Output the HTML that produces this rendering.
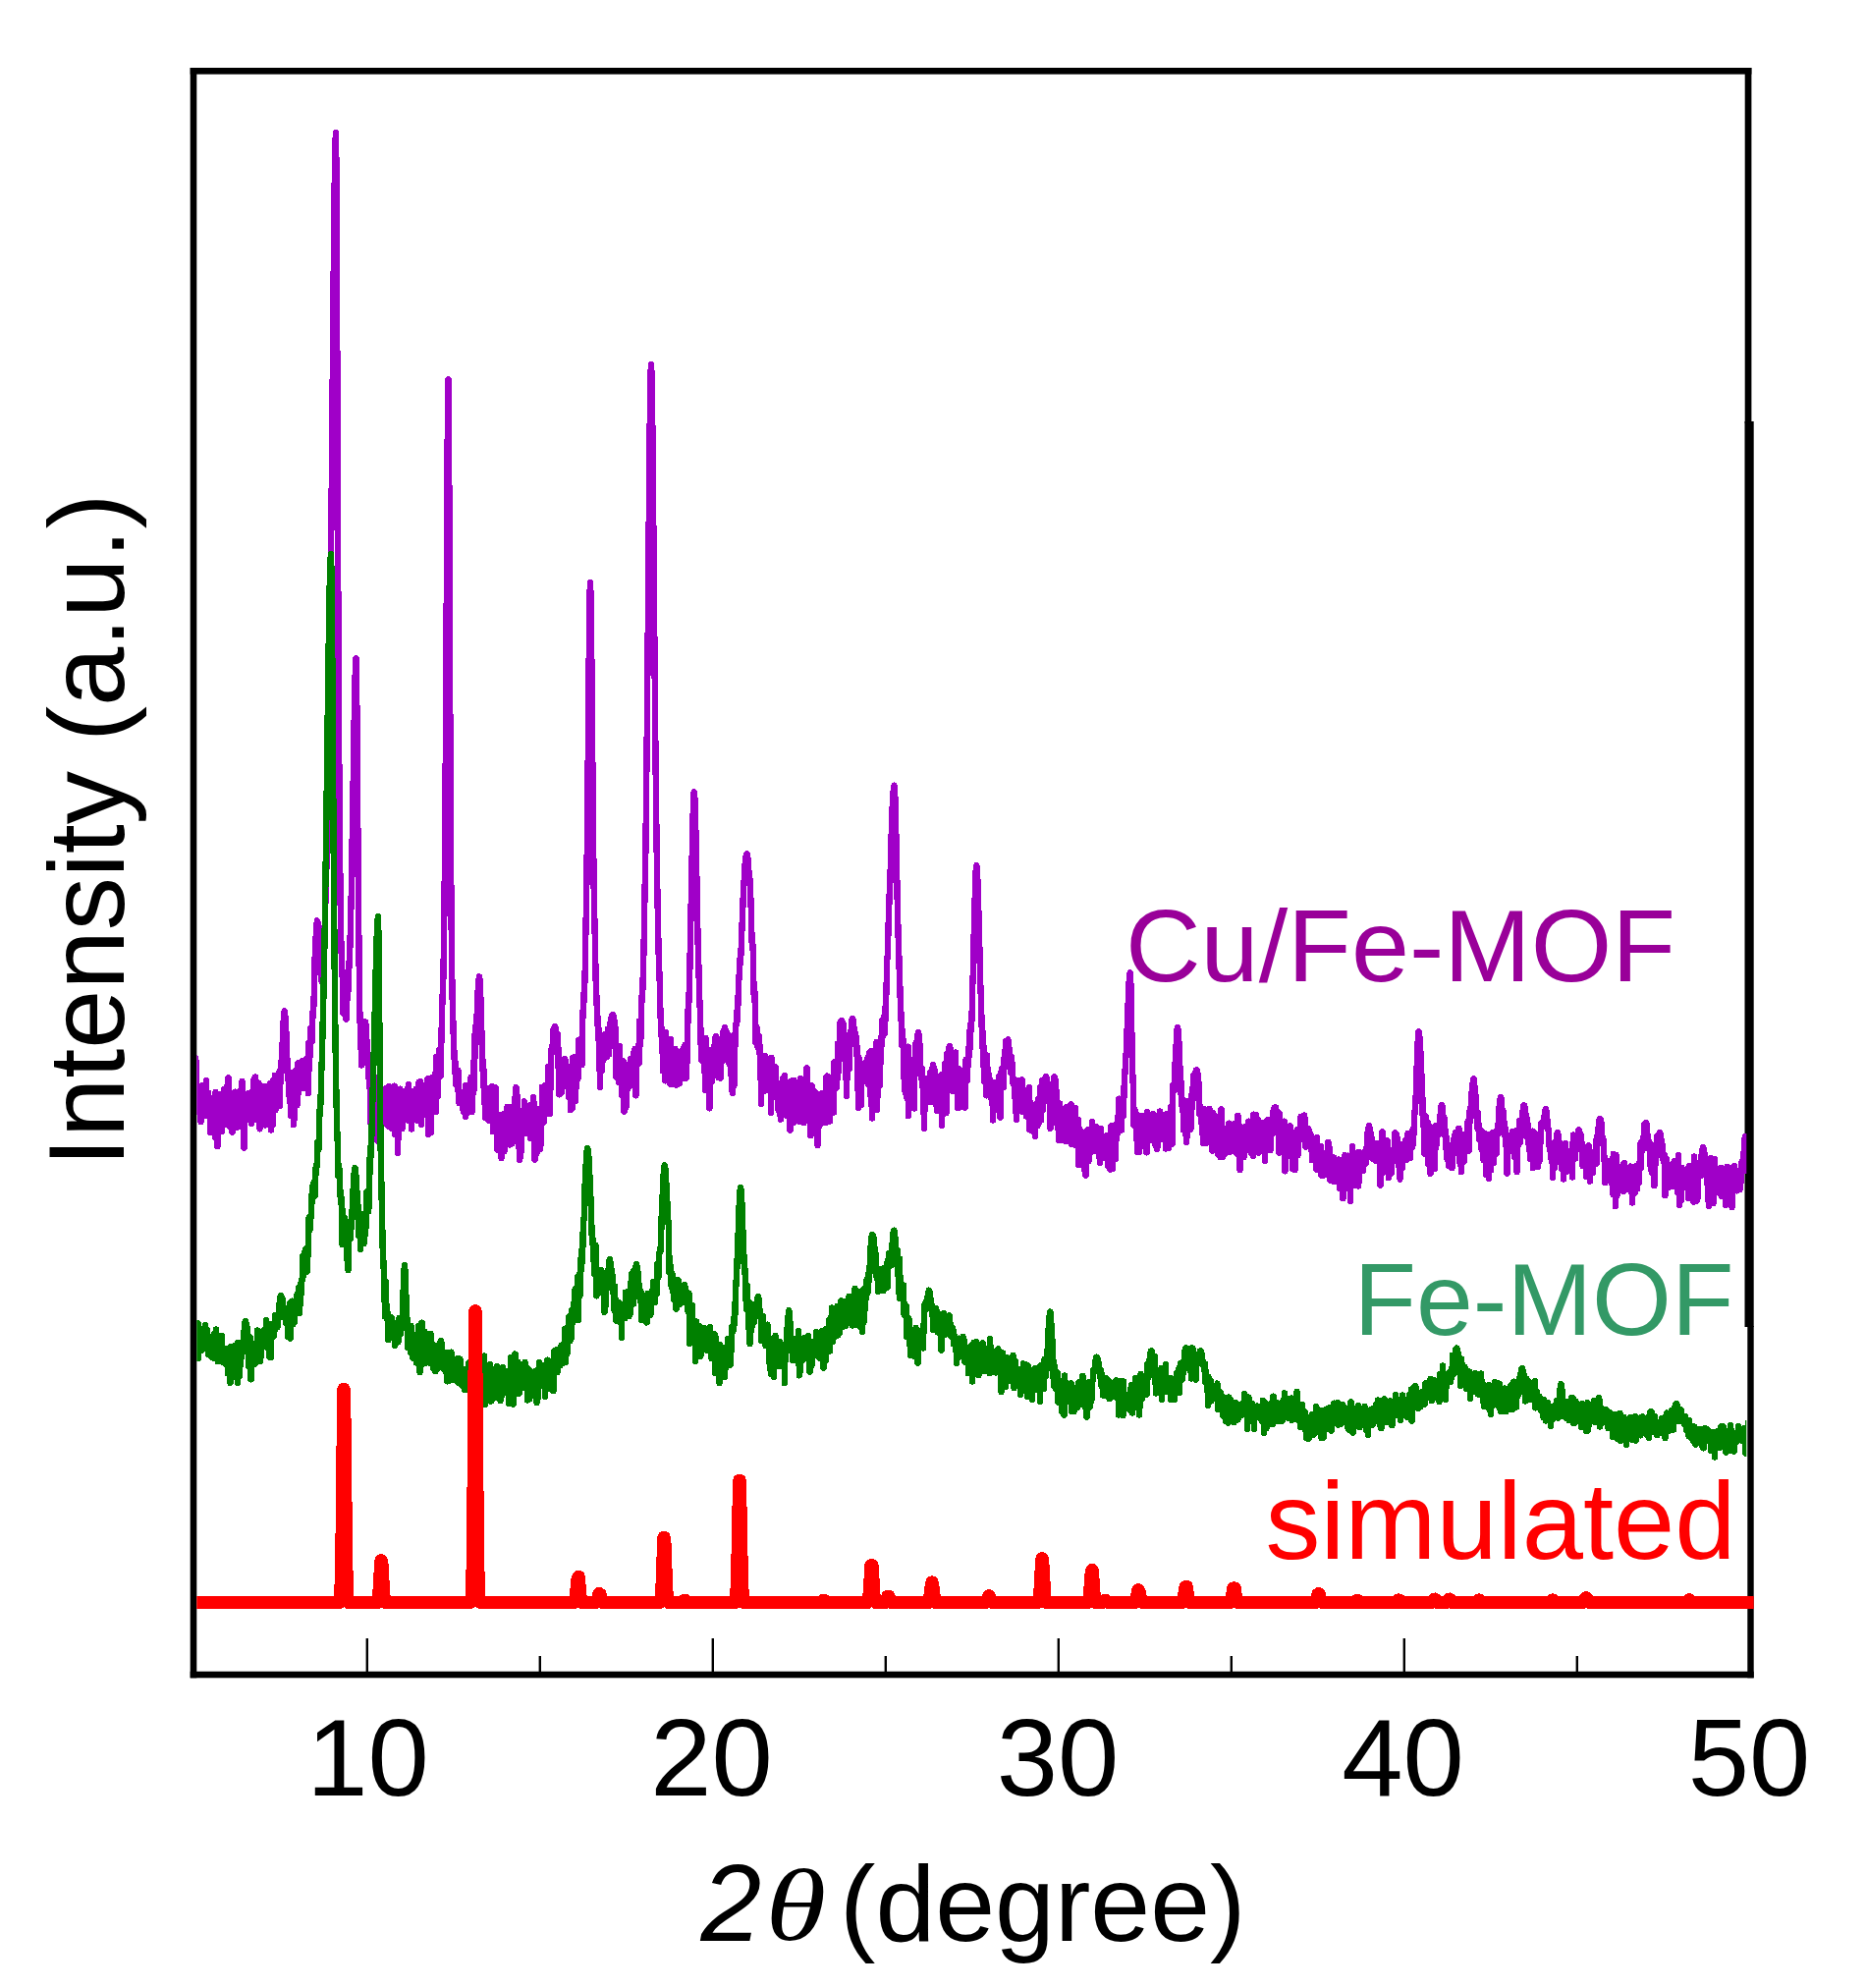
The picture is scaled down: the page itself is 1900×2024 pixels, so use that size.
<!DOCTYPE html>
<html lang="en">
<head>
<meta charset="utf-8">
<title>XRD patterns: Cu/Fe-MOF, Fe-MOF, simulated</title>
<style>
html,body{margin:0;padding:0;background:#fff;}
body{width:1900px;height:2024px;overflow:hidden;}
svg{display:block;}
text{font-family:'Liberation Sans', sans-serif;}
</style>
</head>
<body>
<svg width="1900" height="2024" viewBox="0 0 1900 2024">
<rect x="0" y="0" width="1900" height="2024" fill="#ffffff"/>

<!-- plot frame -->
<g fill="#000000">
<rect x="193.7" y="69" width="1589.7" height="6.6"/>
<rect x="193.7" y="69" width="6.6" height="1639.3"/>
<rect x="193.7" y="1701.7" width="1592" height="6.6"/>
<rect x="1776.7" y="69" width="6.7" height="362"/>
<rect x="1776.5" y="429" width="9.2" height="922"/>
<rect x="1779.3" y="1350" width="6.4" height="358.3"/>
</g>

<!-- ticks -->
<g stroke="#000000" stroke-width="2.4">
<line x1="373.8" y1="1668" x2="373.8" y2="1703"/>
<line x1="549.8" y1="1686" x2="549.8" y2="1703"/>
<line x1="725.8" y1="1668" x2="725.8" y2="1703"/>
<line x1="901.8" y1="1686" x2="901.8" y2="1703"/>
<line x1="1077.8" y1="1668" x2="1077.8" y2="1703"/>
<line x1="1253.8" y1="1686" x2="1253.8" y2="1703"/>
<line x1="1429.8" y1="1668" x2="1429.8" y2="1703"/>
<line x1="1605.8" y1="1686" x2="1605.8" y2="1703"/>
</g>

<!-- curves -->
<defs><clipPath id="plotclip"><rect x="200.3" y="76" width="1578" height="1626"/></clipPath>
<clipPath id="redclip"><rect x="200.3" y="76" width="1585.4" height="1626"/></clipPath></defs>
<g fill="none" stroke-linejoin="round" stroke-linecap="butt" shape-rendering="crispEdges">
<polyline clip-path="url(#plotclip)" stroke="#a000c8" stroke-width="6.4" points="197.0,1111.6 197.5,1103.4 198.0,1089.4 198.5,1080.2 199.0,1077.2 199.5,1080.3 200.0,1090.5 200.5,1110.9 201.0,1109.0 201.5,1114.3 202.0,1132.2 202.5,1133.0 203.0,1130.0 203.5,1116.7 204.0,1128.7 204.5,1142.0 205.0,1111.9 205.5,1123.8 206.0,1105.0 206.5,1113.3 207.0,1106.3 207.5,1127.7 208.0,1114.3 208.5,1136.2 209.0,1134.3 209.5,1129.2 210.0,1100.3 210.5,1125.0 211.0,1131.7 211.5,1134.6 212.0,1112.6 212.5,1126.6 213.0,1120.2 213.5,1122.6 214.0,1152.8 214.5,1122.9 215.0,1133.2 215.5,1149.8 216.0,1126.0 216.5,1132.2 217.0,1135.6 217.5,1134.6 218.0,1117.1 218.5,1134.4 219.0,1157.6 219.5,1112.1 220.0,1147.7 220.5,1133.8 221.0,1122.7 221.5,1167.2 222.0,1144.1 222.5,1113.8 223.0,1130.4 223.5,1139.1 224.0,1125.5 224.5,1139.9 225.0,1126.1 225.5,1138.7 226.0,1152.3 226.5,1116.7 227.0,1129.0 227.5,1118.8 228.0,1126.9 228.5,1108.7 229.0,1116.5 229.5,1121.4 230.0,1140.2 230.5,1144.6 231.0,1106.3 231.5,1113.2 232.0,1135.5 232.5,1097.5 233.0,1117.7 233.5,1122.6 234.0,1147.0 234.5,1136.8 235.0,1120.1 235.5,1119.7 236.0,1121.5 236.5,1152.8 237.0,1119.6 237.5,1121.4 238.0,1132.1 238.5,1124.3 239.0,1123.5 239.5,1111.6 240.0,1126.3 240.5,1120.8 241.0,1148.0 241.5,1138.8 242.0,1126.7 242.5,1139.3 243.0,1122.7 243.5,1146.5 244.0,1127.3 244.5,1138.1 245.0,1110.5 245.5,1133.8 246.0,1105.4 246.5,1100.8 247.0,1123.6 247.5,1115.8 248.0,1130.6 248.5,1168.5 249.0,1116.7 249.5,1119.4 250.0,1131.2 250.5,1136.4 251.0,1125.0 251.5,1124.6 252.0,1140.0 252.5,1136.5 253.0,1113.3 253.5,1125.7 254.0,1127.3 254.5,1112.6 255.0,1131.0 255.5,1114.9 256.0,1143.7 256.5,1129.3 257.0,1127.2 257.5,1117.7 258.0,1123.7 258.5,1098.9 259.0,1110.1 259.5,1131.3 260.0,1096.6 260.5,1139.8 261.0,1101.2 261.5,1137.7 262.0,1112.7 262.5,1137.8 263.0,1125.8 263.5,1103.1 264.0,1145.9 264.5,1149.3 265.0,1122.1 265.5,1119.3 266.0,1120.7 266.5,1110.0 267.0,1142.7 267.5,1115.6 268.0,1122.0 268.5,1112.2 269.0,1114.4 269.5,1105.8 270.0,1145.4 270.5,1120.5 271.0,1139.9 271.5,1122.5 272.0,1113.1 272.5,1117.8 273.0,1114.6 273.5,1121.9 274.0,1116.6 274.5,1117.4 275.0,1103.0 275.5,1110.2 276.0,1150.5 276.5,1111.4 277.0,1106.1 277.5,1125.6 278.0,1144.7 278.5,1099.9 279.0,1115.7 279.5,1109.8 280.0,1094.7 280.5,1130.4 281.0,1116.2 281.5,1117.2 282.0,1105.3 282.5,1122.2 283.0,1105.9 283.5,1109.4 284.0,1095.0 284.5,1091.1 285.0,1126.0 285.5,1092.2 286.0,1097.1 286.5,1084.9 287.0,1072.5 287.5,1062.7 288.0,1059.0 288.5,1043.2 289.0,1034.7 289.7,1029.2 290.0,1030.3 290.5,1036.8 291.0,1046.5 291.5,1053.0 292.0,1056.7 292.5,1088.5 293.0,1098.9 293.5,1090.0 294.0,1106.1 294.5,1114.6 295.0,1118.8 295.5,1122.9 296.0,1102.7 296.5,1136.4 297.0,1094.7 297.5,1126.5 298.0,1120.4 298.5,1127.4 299.0,1145.3 299.5,1138.3 300.0,1097.3 300.5,1090.2 301.0,1126.0 301.5,1098.2 302.0,1110.6 302.5,1125.1 303.0,1088.8 303.5,1082.3 304.0,1113.0 304.5,1108.4 305.0,1103.7 305.5,1106.6 306.0,1094.1 306.5,1084.8 307.0,1100.7 307.5,1089.5 308.0,1079.9 308.5,1108.0 309.0,1097.1 309.5,1103.5 310.0,1082.8 310.5,1085.4 311.0,1079.7 311.5,1079.5 312.0,1091.9 312.5,1077.3 313.0,1090.7 313.5,1088.2 314.0,1113.3 314.5,1061.4 315.0,1088.7 315.5,1070.1 316.0,1066.9 316.5,1046.7 317.0,1051.9 317.5,1060.5 318.0,1041.7 318.5,1034.7 319.0,1021.3 319.5,1023.9 320.0,999.9 320.5,976.7 321.0,971.3 321.5,957.1 322.0,947.6 322.5,941.1 322.9,937.2 323.5,939.5 324.0,947.4 324.5,958.6 325.0,978.0 325.5,982.8 326.0,988.8 326.5,991.8 327.0,993.5 327.5,999.3 328.0,993.3 328.5,984.7 329.0,969.4 329.5,971.3 330.0,953.5 330.5,953.1 331.0,926.3 331.5,916.5 332.0,900.0 332.5,876.3 333.0,866.3 333.5,840.2 334.0,806.8 334.5,779.8 335.0,745.1 335.5,703.7 336.0,666.8 336.5,621.7 337.0,573.6 337.5,520.9 338.0,466.9 338.5,410.3 339.0,354.0 339.5,297.8 340.0,245.9 340.5,201.4 341.0,165.9 341.5,143.4 342.0,135.2 342.5,174.2 343.0,275.6 343.5,404.5 344.0,531.9 344.5,642.7 345.0,734.0 345.5,805.0 346.0,860.6 346.5,904.2 347.0,946.3 347.5,965.5 348.0,979.9 348.5,990.7 349.0,1001.0 349.5,1031.6 350.0,1026.1 350.5,1025.4 351.0,1024.4 351.5,1019.0 352.0,1027.9 352.5,1037.5 353.0,1020.9 353.5,1018.1 354.0,1012.4 354.5,1007.9 355.0,986.1 355.5,984.7 356.0,967.7 356.5,963.7 357.0,934.9 357.5,921.0 358.0,901.5 358.5,866.4 359.0,837.1 359.5,808.4 360.0,776.3 360.5,744.4 361.0,717.3 361.5,694.3 362.0,677.2 362.6,670.2 363.0,684.9 363.5,736.2 364.0,802.3 364.5,866.9 365.0,929.8 365.5,963.6 366.0,1010.5 366.5,1041.2 367.0,1043.4 367.5,1058.4 368.0,1084.5 368.5,1058.6 369.0,1055.6 369.5,1048.7 370.0,1055.5 370.5,1057.5 371.0,1046.9 371.5,1040.1 372.0,1040.2 372.5,1044.2 373.0,1053.1 373.5,1061.2 374.0,1073.7 374.5,1084.3 375.0,1085.6 375.5,1094.6 376.0,1103.7 376.5,1103.4 377.0,1116.5 377.5,1143.3 378.0,1122.7 378.5,1114.7 379.0,1093.2 379.5,1123.0 380.0,1091.7 380.5,1099.3 381.0,1133.6 381.5,1131.5 382.0,1117.2 382.5,1097.4 383.0,1115.1 383.5,1111.5 384.0,1132.1 384.5,1161.6 385.0,1125.1 385.5,1111.3 386.0,1106.4 386.5,1121.2 387.0,1119.9 387.5,1107.5 388.0,1124.9 388.5,1108.2 389.0,1143.6 389.5,1143.1 390.0,1143.8 390.5,1118.4 391.0,1134.3 391.5,1123.6 392.0,1120.7 392.5,1121.7 393.0,1109.6 393.5,1108.1 394.0,1141.7 394.5,1125.2 395.0,1132.0 395.5,1146.5 396.0,1106.1 396.5,1118.8 397.0,1132.4 397.5,1136.6 398.0,1124.8 398.5,1148.5 399.0,1133.8 399.5,1114.3 400.0,1118.1 400.5,1144.9 401.0,1138.8 401.5,1105.7 402.0,1154.9 402.5,1141.3 403.0,1154.8 403.5,1125.6 404.0,1126.7 404.5,1115.9 405.0,1174.1 405.5,1128.3 406.0,1159.3 406.5,1122.2 407.0,1133.5 407.5,1108.7 408.0,1125.4 408.5,1148.0 409.0,1113.7 409.5,1149.2 410.0,1135.7 410.5,1115.6 411.0,1122.4 411.5,1122.5 412.0,1127.4 412.5,1120.6 413.0,1116.3 413.5,1122.6 414.0,1112.7 414.5,1108.8 415.0,1124.4 415.5,1140.5 416.0,1104.2 416.5,1123.8 417.0,1114.8 417.5,1110.2 418.0,1138.1 418.5,1115.7 419.0,1149.4 419.5,1112.0 420.0,1129.1 420.5,1119.2 421.0,1112.4 421.5,1132.9 422.0,1120.4 422.5,1133.5 423.0,1122.2 423.5,1108.9 424.0,1122.0 424.5,1124.5 425.0,1141.1 425.5,1112.2 426.0,1123.7 426.5,1102.0 427.0,1136.4 427.5,1110.7 428.0,1101.4 428.5,1124.2 429.0,1144.9 429.5,1105.1 430.0,1110.8 430.5,1115.2 431.0,1110.0 431.5,1131.4 432.0,1113.9 432.5,1114.8 433.0,1134.4 433.5,1113.8 434.0,1131.0 434.5,1110.3 435.0,1106.8 435.5,1098.4 436.0,1155.2 436.5,1117.1 437.0,1125.2 437.5,1119.9 438.0,1122.7 438.5,1120.1 439.0,1152.8 439.5,1104.6 440.0,1097.3 440.5,1103.6 441.0,1098.6 441.5,1128.0 442.0,1128.2 442.5,1100.3 443.0,1093.5 443.5,1105.1 444.0,1132.1 444.5,1075.7 445.0,1112.6 445.5,1087.7 446.0,1115.7 446.5,1081.6 447.0,1087.4 447.5,1068.5 448.0,1069.6 448.5,1095.9 449.0,1079.0 449.5,1053.3 450.0,1037.5 450.5,1014.7 451.0,1009.9 451.5,989.0 452.0,958.3 452.5,919.4 453.0,867.3 453.5,809.5 454.0,736.3 454.5,653.0 455.0,561.8 455.5,474.7 456.0,410.3 456.5,386.2 457.0,429.5 457.5,534.8 458.0,657.6 458.5,767.7 459.0,860.1 459.5,925.6 460.0,977.1 460.5,1009.0 461.0,1029.0 461.5,1044.2 462.0,1064.6 462.5,1071.5 463.0,1089.8 463.5,1092.7 464.0,1082.0 464.5,1104.3 465.0,1090.6 465.5,1103.0 466.0,1110.0 466.5,1090.0 467.0,1120.0 467.5,1123.0 468.0,1119.9 468.5,1117.9 469.0,1119.7 469.5,1112.9 470.0,1122.7 470.5,1119.7 471.0,1128.8 471.5,1111.9 472.0,1131.8 472.5,1130.1 473.0,1125.6 473.5,1121.5 474.0,1136.7 474.5,1104.9 475.0,1134.1 475.5,1129.6 476.0,1129.6 476.5,1130.6 477.0,1114.5 477.5,1118.6 478.0,1132.1 478.5,1127.2 479.0,1121.7 479.5,1097.0 480.0,1123.7 480.5,1132.1 481.0,1126.1 481.5,1108.8 482.0,1081.1 482.5,1110.2 483.0,1086.2 483.5,1053.3 484.0,1076.3 484.5,1046.5 485.0,1038.7 485.5,1032.9 486.0,1032.7 486.5,1011.9 487.0,1003.6 487.5,997.3 488.0,994.2 488.5,998.0 489.0,1007.8 489.5,1018.5 490.0,1034.3 490.5,1057.2 491.0,1072.0 491.5,1081.1 492.0,1105.6 492.5,1089.6 493.0,1105.2 493.5,1124.2 494.0,1126.2 494.5,1138.4 495.0,1129.4 495.5,1120.6 496.0,1132.9 496.5,1115.0 497.0,1108.1 497.5,1140.7 498.0,1130.6 498.5,1137.6 499.0,1110.9 499.5,1128.8 500.0,1126.4 500.5,1123.5 501.0,1106.0 501.5,1131.3 502.0,1152.3 502.5,1143.4 503.0,1129.2 503.5,1137.2 504.0,1151.5 504.5,1107.2 505.0,1137.1 505.5,1148.9 506.0,1151.9 506.5,1170.7 507.0,1161.0 507.5,1146.6 508.0,1146.9 508.5,1156.1 509.0,1135.4 509.5,1142.3 510.0,1159.6 510.5,1179.0 511.0,1142.1 511.5,1143.9 512.0,1148.5 512.5,1169.4 513.0,1145.1 513.5,1172.2 514.0,1133.5 514.5,1143.8 515.0,1143.8 515.5,1160.6 516.0,1165.4 516.5,1127.1 517.0,1134.8 517.5,1152.8 518.0,1138.2 518.5,1127.0 519.0,1165.5 519.5,1155.7 520.0,1155.7 520.5,1140.4 521.0,1164.5 521.5,1142.8 522.0,1163.2 522.5,1133.4 523.0,1132.0 523.5,1136.5 524.0,1123.2 524.5,1119.7 525.0,1110.4 525.5,1107.2 526.0,1109.9 526.5,1116.1 527.0,1131.7 527.5,1129.1 528.0,1135.1 528.5,1160.9 529.0,1181.1 529.5,1179.3 530.0,1145.9 530.5,1148.6 531.0,1172.1 531.5,1142.7 532.0,1131.4 532.5,1145.9 533.0,1151.6 533.5,1132.4 534.0,1121.4 534.5,1123.7 535.0,1153.8 535.5,1131.6 536.0,1139.2 536.5,1144.4 537.0,1151.3 537.5,1135.4 538.0,1148.4 538.5,1127.6 539.0,1134.1 539.5,1125.3 540.0,1158.7 540.5,1137.8 541.0,1128.4 541.5,1133.3 542.0,1134.9 542.5,1150.3 543.0,1117.0 543.5,1124.2 544.0,1132.6 544.5,1180.6 545.0,1154.6 545.5,1135.9 546.0,1150.0 546.5,1174.0 547.0,1133.9 547.5,1132.0 548.0,1158.3 548.5,1145.1 549.0,1148.0 549.5,1129.1 550.0,1169.8 550.5,1165.4 551.0,1144.3 551.5,1145.8 552.0,1106.7 552.5,1143.5 553.0,1128.8 553.5,1138.2 554.0,1141.6 554.5,1123.9 555.0,1105.4 555.5,1132.3 556.0,1114.7 556.5,1118.2 557.0,1112.7 557.5,1113.8 558.0,1086.2 558.5,1133.7 559.0,1113.4 559.5,1124.1 560.0,1133.9 560.5,1095.7 561.0,1069.0 561.5,1073.7 562.0,1065.0 562.5,1065.4 563.0,1063.1 563.5,1048.3 564.0,1051.4 564.5,1046.1 565.0,1045.2 565.5,1045.8 566.0,1047.9 566.5,1052.3 567.0,1054.5 567.5,1058.4 568.0,1052.9 568.5,1073.6 569.0,1107.2 569.5,1114.4 570.0,1107.4 570.5,1099.7 571.0,1081.6 571.5,1112.6 572.0,1089.2 572.5,1087.9 573.0,1084.5 573.5,1084.4 574.0,1080.1 574.5,1078.8 575.0,1078.2 575.5,1079.3 576.0,1089.5 576.5,1085.8 577.0,1088.3 577.5,1100.0 578.0,1106.6 578.5,1085.6 579.0,1097.7 579.5,1117.3 580.0,1107.0 580.5,1104.9 581.0,1130.3 581.5,1094.3 582.0,1104.2 582.5,1095.8 583.0,1128.2 583.5,1076.6 584.0,1092.2 584.5,1093.2 585.0,1110.5 585.5,1108.6 586.0,1121.2 586.5,1075.9 587.0,1107.2 587.5,1089.0 588.0,1082.5 588.5,1098.0 589.0,1075.2 589.5,1058.6 590.0,1076.5 590.5,1059.8 591.0,1066.4 591.5,1075.8 592.0,1070.0 592.5,1084.0 593.0,1050.8 593.5,1029.4 594.0,1028.7 594.5,1016.7 595.0,1001.5 595.5,1000.3 596.0,971.6 596.5,940.5 597.0,926.7 597.5,886.6 598.0,846.6 598.5,797.6 599.0,745.3 599.5,690.3 600.0,641.6 600.5,606.2 601.0,593.2 601.5,605.9 602.0,640.3 602.5,689.3 603.0,743.0 603.5,796.4 604.0,840.3 604.5,893.1 605.0,921.1 605.5,942.9 606.0,962.4 606.5,991.3 607.0,1008.7 607.5,1016.0 608.0,1034.5 608.5,1035.5 609.0,1057.4 609.5,1047.3 610.0,1059.8 610.5,1079.9 611.0,1106.6 611.5,1058.9 612.0,1067.7 612.5,1065.1 613.0,1089.8 613.5,1064.0 614.0,1072.9 614.5,1079.0 615.0,1067.7 615.5,1067.9 616.0,1073.4 616.5,1052.8 617.0,1059.7 617.5,1070.8 618.0,1076.3 618.5,1069.2 619.0,1047.6 619.5,1059.8 620.0,1073.6 620.5,1065.1 621.0,1051.8 621.5,1041.0 622.0,1048.6 622.5,1037.1 623.0,1033.8 623.5,1033.4 624.0,1033.2 624.5,1034.4 625.0,1039.9 625.5,1038.9 626.0,1053.3 626.5,1046.1 627.0,1054.7 627.5,1096.7 628.0,1078.4 628.5,1065.1 629.0,1073.9 629.5,1084.0 630.0,1102.1 630.5,1078.1 631.0,1064.7 631.5,1084.7 632.0,1089.9 632.5,1092.9 633.0,1115.0 633.5,1098.4 634.0,1107.8 634.5,1080.3 635.0,1109.9 635.5,1131.8 636.0,1108.9 636.5,1100.0 637.0,1098.4 637.5,1127.1 638.0,1084.0 638.5,1094.3 639.0,1103.5 639.5,1108.2 640.0,1089.4 640.5,1099.9 641.0,1090.5 641.5,1095.5 642.0,1091.0 642.5,1077.6 643.0,1090.7 643.5,1105.1 644.0,1076.8 644.5,1084.5 645.0,1097.4 645.5,1071.4 646.0,1085.9 646.5,1068.1 647.0,1098.0 647.5,1115.4 648.0,1107.9 648.5,1069.2 649.0,1081.0 649.5,1067.8 650.0,1064.0 650.5,1082.7 651.0,1039.7 651.5,1065.1 652.0,1043.2 652.5,1056.9 653.0,1032.1 653.5,1014.4 654.0,1013.2 654.5,1005.2 655.0,982.3 655.5,968.1 656.0,939.4 656.5,906.9 657.0,892.1 657.5,856.1 658.0,814.5 658.5,770.2 659.0,723.6 659.5,667.8 660.0,611.7 660.5,555.0 661.0,499.9 661.5,448.3 662.0,407.7 662.5,380.6 663.0,371.2 663.5,380.6 664.0,407.5 664.5,448.2 665.0,498.9 665.5,555.7 666.0,613.6 666.5,667.5 667.0,721.8 667.5,771.7 668.0,812.0 668.5,854.4 669.0,887.0 669.5,914.3 670.0,939.6 670.5,964.6 671.0,982.7 671.5,993.4 672.0,1007.2 672.5,1035.9 673.0,1033.8 673.5,1051.0 674.0,1062.6 674.5,1059.6 675.0,1090.4 675.5,1050.8 676.0,1076.5 676.5,1063.3 677.0,1099.9 677.5,1100.2 678.0,1051.4 678.5,1065.1 679.0,1089.5 679.5,1093.3 680.0,1093.8 680.5,1081.7 681.0,1091.3 681.5,1095.6 682.0,1084.3 682.5,1103.5 683.0,1058.4 683.5,1097.8 684.0,1074.3 684.5,1104.0 685.0,1084.7 685.5,1076.6 686.0,1094.2 686.5,1076.3 687.0,1076.2 687.5,1067.8 688.0,1086.9 688.5,1095.7 689.0,1104.6 689.5,1084.7 690.0,1104.3 690.5,1086.0 691.0,1084.1 691.5,1094.8 692.0,1102.7 692.5,1079.5 693.0,1080.1 693.5,1080.5 694.0,1083.2 694.5,1069.8 695.0,1097.7 695.5,1074.0 696.0,1085.5 696.5,1065.9 697.0,1080.1 697.5,1078.1 698.0,1063.6 698.5,1097.5 699.0,1066.0 699.5,1081.6 700.0,1061.1 700.5,1031.1 701.0,1023.2 701.5,1018.9 702.0,998.5 702.5,980.0 703.0,957.0 703.5,926.9 704.0,909.6 704.5,878.6 705.0,859.6 705.5,835.2 706.0,817.8 706.5,807.9 706.8,806.2 707.0,807.0 707.5,815.1 708.0,830.7 708.5,852.6 709.0,874.4 709.5,901.9 710.0,940.5 710.5,947.9 711.0,981.2 711.5,983.0 712.0,1013.4 712.5,1020.4 713.0,1034.2 713.5,1052.8 714.0,1079.2 714.5,1061.5 715.0,1065.6 715.5,1056.2 716.0,1081.0 716.5,1071.1 717.0,1090.5 717.5,1077.8 718.0,1109.9 718.5,1056.8 719.0,1078.9 719.5,1098.9 720.0,1080.0 720.5,1075.2 721.0,1082.3 721.5,1068.8 722.0,1088.5 722.5,1128.4 723.0,1106.5 723.5,1072.3 724.0,1074.8 724.5,1080.0 725.0,1100.6 725.5,1072.6 726.0,1072.4 726.5,1087.4 727.0,1080.6 727.5,1065.8 728.0,1059.5 728.5,1056.3 729.0,1055.2 729.5,1055.7 730.0,1063.7 730.5,1063.6 731.0,1075.2 731.5,1097.0 732.0,1093.2 732.5,1064.4 733.0,1092.7 733.5,1097.8 734.0,1068.8 734.5,1065.5 735.0,1073.0 735.5,1056.8 736.0,1080.2 736.5,1050.5 737.0,1052.1 737.5,1048.6 738.0,1046.2 738.5,1048.5 739.0,1054.6 739.5,1059.3 740.0,1076.6 740.5,1052.1 741.0,1074.5 741.5,1068.9 742.0,1080.9 742.5,1083.5 743.0,1069.0 743.5,1072.2 744.0,1093.3 744.5,1084.9 745.0,1069.4 745.5,1110.8 746.0,1113.2 746.5,1054.3 747.0,1074.2 747.5,1105.3 748.0,1074.9 748.5,1061.5 749.0,1050.9 749.5,1041.9 750.0,1039.7 750.5,1029.7 751.0,1038.5 751.5,1016.7 752.0,1008.1 752.5,992.9 753.0,993.3 753.5,977.1 754.0,972.1 754.5,972.1 755.0,954.8 755.5,944.5 756.0,932.1 756.5,919.1 757.0,907.8 757.5,897.6 758.0,893.0 758.5,880.4 759.0,878.9 759.5,872.3 760.0,869.7 760.4,869.2 761.0,870.5 761.5,874.2 762.0,878.1 762.5,889.9 763.0,892.0 763.5,895.3 764.0,911.1 764.5,915.4 765.0,936.3 765.5,956.5 766.0,965.0 766.5,961.5 767.0,975.9 767.5,1011.2 768.0,1005.7 768.5,1011.6 769.0,1034.0 769.5,1061.2 770.0,1054.7 770.5,1045.7 771.0,1055.7 771.5,1065.9 772.0,1054.8 772.5,1054.4 773.0,1072.0 773.5,1063.7 774.0,1077.8 774.5,1083.2 775.0,1124.2 775.5,1076.0 776.0,1087.0 776.5,1088.2 777.0,1099.4 777.5,1111.4 778.0,1088.1 778.5,1084.9 779.0,1075.4 779.5,1085.2 780.0,1107.1 780.5,1099.1 781.0,1086.0 781.5,1094.8 782.0,1100.7 782.5,1109.6 783.0,1093.8 783.5,1098.8 784.0,1079.5 784.5,1088.6 785.0,1132.6 785.5,1076.8 786.0,1101.1 786.5,1110.1 787.0,1102.1 787.5,1097.3 788.0,1107.6 788.5,1109.0 789.0,1108.8 789.5,1086.5 790.0,1109.2 790.5,1100.7 791.0,1105.2 791.5,1116.7 792.0,1124.5 792.5,1129.4 793.0,1107.5 793.5,1130.6 794.0,1135.3 794.5,1134.9 795.0,1139.6 795.5,1113.3 796.0,1113.2 796.5,1130.3 797.0,1098.4 797.5,1119.9 798.0,1109.7 798.5,1112.0 799.0,1094.8 799.5,1106.1 800.0,1117.6 800.5,1133.9 801.0,1135.9 801.5,1117.5 802.0,1116.3 802.5,1108.3 803.0,1126.3 803.5,1116.2 804.0,1130.3 804.5,1150.8 805.0,1119.4 805.5,1100.7 806.0,1108.9 806.5,1101.3 807.0,1104.6 807.5,1143.0 808.0,1123.7 808.5,1100.1 809.0,1131.0 809.5,1141.7 810.0,1114.5 810.5,1110.3 811.0,1114.4 811.5,1123.6 812.0,1129.8 812.5,1139.2 813.0,1139.6 813.5,1139.0 814.0,1142.0 814.5,1129.5 815.0,1098.1 815.5,1115.9 816.0,1123.1 816.5,1112.6 817.0,1133.6 817.5,1112.8 818.0,1105.6 818.5,1143.1 819.0,1129.3 819.5,1121.5 820.0,1134.1 820.5,1136.6 821.0,1124.0 821.5,1087.4 822.0,1109.6 822.5,1112.7 823.0,1106.2 823.5,1122.5 824.0,1140.5 824.5,1113.5 825.0,1105.5 825.5,1156.3 826.0,1114.9 826.5,1105.3 827.0,1125.7 827.5,1129.4 828.0,1113.1 828.5,1136.5 829.0,1116.5 829.5,1111.2 830.0,1126.3 830.5,1137.0 831.0,1115.3 831.5,1129.4 832.0,1122.3 832.5,1166.0 833.0,1114.3 833.5,1147.7 834.0,1122.2 834.5,1121.0 835.0,1135.1 835.5,1137.7 836.0,1143.9 836.5,1126.8 837.0,1112.8 837.5,1113.0 838.0,1128.3 838.5,1129.0 839.0,1142.9 839.5,1124.9 840.0,1135.7 840.5,1143.2 841.0,1118.6 841.5,1096.2 842.0,1099.5 842.5,1095.6 843.0,1141.6 843.5,1102.0 844.0,1134.1 844.5,1122.1 845.0,1141.4 845.5,1128.2 846.0,1108.6 846.5,1106.6 847.0,1109.9 847.5,1110.6 848.0,1099.9 848.5,1105.1 849.0,1132.5 849.5,1081.3 850.0,1105.6 850.5,1087.6 851.0,1099.7 851.5,1107.8 852.0,1089.1 852.5,1098.5 853.0,1062.5 853.5,1092.0 854.0,1063.7 854.5,1070.1 855.0,1058.1 855.5,1041.1 856.0,1043.4 856.5,1041.1 857.0,1039.2 857.5,1040.1 858.0,1043.5 858.5,1042.1 859.0,1064.6 859.5,1078.3 860.0,1064.4 860.5,1066.5 861.0,1054.7 861.5,1089.6 862.0,1116.2 862.5,1089.7 863.0,1097.9 863.5,1084.5 864.0,1062.2 864.5,1088.6 865.0,1052.9 865.5,1057.2 866.0,1055.1 866.5,1051.5 867.0,1042.8 867.5,1038.6 868.0,1037.2 868.5,1038.2 869.0,1043.0 869.5,1045.9 870.0,1047.4 870.5,1052.1 871.0,1064.0 871.5,1055.0 872.0,1064.7 872.5,1065.2 873.0,1091.3 873.5,1098.2 874.0,1128.0 874.5,1077.1 875.0,1088.5 875.5,1113.5 876.0,1095.6 876.5,1094.3 877.0,1124.9 877.5,1093.0 878.0,1084.5 878.5,1083.3 879.0,1091.5 879.5,1087.1 880.0,1082.5 880.5,1082.2 881.0,1083.8 881.5,1087.8 882.0,1086.2 882.5,1097.8 883.0,1101.1 883.5,1076.9 884.0,1093.1 884.5,1104.2 885.0,1090.6 885.5,1071.3 886.0,1094.3 886.5,1110.8 887.0,1124.9 887.5,1070.0 888.0,1138.4 888.5,1082.5 889.0,1112.6 889.5,1116.8 890.0,1111.8 890.5,1096.8 891.0,1079.1 891.5,1103.2 892.0,1082.7 892.5,1061.0 893.0,1129.6 893.5,1099.5 894.0,1116.3 894.5,1073.2 895.0,1106.3 895.5,1105.8 896.0,1102.4 896.5,1074.0 897.0,1057.2 897.5,1065.3 898.0,1038.9 898.5,1040.3 899.0,1055.0 899.5,1037.8 900.0,1040.1 900.5,1033.8 901.0,1051.7 901.5,1034.4 902.0,1009.1 902.5,1012.3 903.0,982.8 903.5,974.2 904.0,971.3 904.5,943.0 905.0,933.9 905.5,913.9 906.0,904.6 906.5,895.8 907.0,869.0 907.5,856.2 908.0,838.6 908.5,825.2 909.0,814.4 909.5,807.8 910.0,801.9 910.5,799.7 911.0,803.8 911.5,816.1 912.0,833.3 912.5,857.5 913.0,880.6 913.5,905.3 914.0,931.3 914.5,946.6 915.0,967.4 915.5,975.9 916.0,1000.7 916.5,1006.1 917.0,1029.2 917.5,1031.8 918.0,1051.7 918.5,1064.8 919.0,1049.0 919.5,1061.1 920.0,1064.1 920.5,1091.0 921.0,1110.2 921.5,1099.2 922.0,1083.4 922.5,1114.0 923.0,1073.0 923.5,1117.9 924.0,1085.9 924.5,1065.6 925.0,1136.3 925.5,1123.1 926.0,1084.1 926.5,1099.9 927.0,1094.6 927.5,1099.1 928.0,1079.1 928.5,1088.7 929.0,1104.5 929.5,1099.5 930.0,1114.8 930.5,1094.2 931.0,1128.4 931.5,1079.4 932.0,1086.8 932.5,1061.9 933.0,1063.9 933.5,1072.5 934.0,1056.3 934.5,1053.4 935.0,1051.2 935.5,1053.0 936.0,1058.7 936.5,1065.0 937.0,1072.1 937.5,1091.5 938.0,1098.2 938.5,1088.1 939.0,1088.2 939.5,1106.7 940.0,1103.3 940.5,1123.8 941.0,1148.6 941.5,1123.1 942.0,1109.0 942.5,1107.8 943.0,1099.6 943.5,1099.2 944.0,1097.9 944.5,1105.2 945.0,1104.5 945.5,1121.6 946.0,1103.5 946.5,1104.6 947.0,1092.3 947.5,1122.3 948.0,1103.4 948.5,1105.4 949.0,1092.1 949.5,1087.0 950.0,1084.2 950.5,1086.5 951.0,1097.3 951.5,1089.5 952.0,1110.6 952.5,1124.1 953.0,1112.4 953.5,1120.5 954.0,1131.0 954.5,1103.2 955.0,1119.0 955.5,1101.6 956.0,1104.3 956.5,1105.2 957.0,1111.1 957.5,1115.3 958.0,1120.3 958.5,1094.4 959.0,1145.9 959.5,1131.0 960.0,1122.7 960.5,1104.8 961.0,1107.0 961.5,1116.1 962.0,1111.9 962.5,1082.2 963.0,1112.1 963.5,1133.1 964.0,1073.4 964.5,1099.5 965.0,1085.4 965.5,1075.9 966.0,1074.9 966.5,1066.1 967.0,1065.2 967.5,1067.8 968.0,1070.1 968.5,1073.7 969.0,1081.6 969.5,1081.3 970.0,1111.0 970.5,1082.2 971.0,1109.3 971.5,1081.9 972.0,1110.0 972.5,1098.4 973.0,1071.6 973.5,1100.9 974.0,1088.1 974.5,1096.0 975.0,1128.0 975.5,1087.8 976.0,1088.4 976.5,1126.1 977.0,1103.2 977.5,1127.4 978.0,1106.3 978.5,1089.6 979.0,1099.3 979.5,1120.6 980.0,1115.2 980.5,1098.6 981.0,1098.8 981.5,1095.8 982.0,1089.3 982.5,1127.7 983.0,1094.1 983.5,1079.0 984.0,1085.1 984.5,1100.6 985.0,1096.6 985.5,1081.5 986.0,1071.7 986.5,1075.4 987.0,1051.2 987.5,1049.3 988.0,1067.1 988.5,1042.0 989.0,1041.0 989.5,1038.4 990.0,1016.9 990.5,994.3 991.0,993.4 991.5,962.1 992.0,937.5 992.5,921.9 993.0,903.5 993.5,889.5 994.0,882.5 994.3,881.2 994.5,881.8 995.0,887.3 995.5,899.9 996.0,915.9 996.5,933.9 997.0,947.9 997.5,972.1 998.0,991.8 998.5,1009.7 999.0,1013.9 999.5,1044.3 1000.0,1036.0 1000.5,1055.3 1001.0,1085.0 1001.5,1065.5 1002.0,1073.4 1002.5,1101.1 1003.0,1084.2 1003.5,1088.9 1004.0,1099.1 1004.5,1115.4 1005.0,1074.6 1005.5,1092.9 1006.0,1092.5 1006.5,1093.1 1007.0,1097.2 1007.5,1098.5 1008.0,1114.6 1008.5,1099.9 1009.0,1113.3 1009.5,1118.6 1010.0,1103.8 1010.5,1115.1 1011.0,1140.5 1011.5,1118.8 1012.0,1106.0 1012.5,1112.9 1013.0,1102.6 1013.5,1117.9 1014.0,1127.4 1014.5,1102.9 1015.0,1109.7 1015.5,1129.9 1016.0,1104.7 1016.5,1112.6 1017.0,1096.1 1017.5,1097.1 1018.0,1098.9 1018.5,1137.6 1019.0,1095.7 1019.5,1091.6 1020.0,1088.2 1020.5,1089.3 1021.0,1097.3 1021.5,1086.2 1022.0,1107.3 1022.5,1077.7 1023.0,1085.6 1023.5,1069.4 1024.0,1067.0 1024.5,1059.6 1025.0,1060.4 1025.4,1060.2 1026.0,1061.0 1026.5,1058.3 1027.0,1071.0 1027.5,1067.1 1028.0,1070.0 1028.5,1075.4 1029.0,1079.7 1029.5,1092.3 1030.0,1076.3 1030.5,1083.8 1031.0,1102.3 1031.5,1103.3 1032.0,1099.6 1032.5,1099.9 1033.0,1099.2 1033.5,1110.1 1034.0,1131.5 1034.5,1101.9 1035.0,1139.9 1035.5,1130.3 1036.0,1112.6 1036.5,1131.3 1037.0,1102.7 1037.5,1100.4 1038.0,1106.2 1038.5,1117.0 1039.0,1118.6 1039.5,1116.9 1040.0,1125.0 1040.5,1099.2 1041.0,1132.2 1041.5,1108.3 1042.0,1117.4 1042.5,1120.6 1043.0,1112.4 1043.5,1110.3 1044.0,1114.9 1044.5,1126.7 1045.0,1136.6 1045.5,1136.7 1046.0,1116.7 1046.5,1119.6 1047.0,1118.6 1047.5,1136.9 1048.0,1106.8 1048.5,1150.4 1049.0,1125.5 1049.5,1122.5 1050.0,1137.3 1050.5,1148.7 1051.0,1138.1 1051.5,1149.7 1052.0,1135.4 1052.5,1153.0 1053.0,1153.4 1053.5,1132.7 1054.0,1156.8 1054.5,1136.7 1055.0,1135.5 1055.5,1123.6 1056.0,1130.7 1056.5,1146.2 1057.0,1118.8 1057.5,1143.8 1058.0,1138.7 1058.5,1137.2 1059.0,1107.1 1059.5,1130.3 1060.0,1140.5 1060.5,1120.4 1061.0,1128.3 1061.5,1099.7 1062.0,1129.8 1062.5,1111.6 1063.0,1119.5 1063.5,1099.3 1064.0,1103.5 1064.5,1097.5 1065.0,1096.2 1065.5,1097.2 1066.0,1100.3 1066.5,1119.0 1067.0,1106.6 1067.5,1110.6 1068.0,1117.2 1068.5,1111.8 1069.0,1140.9 1069.5,1148.9 1070.0,1115.3 1070.5,1103.8 1071.0,1130.1 1071.5,1122.2 1072.0,1112.1 1072.5,1105.6 1073.0,1097.2 1073.6,1096.2 1074.0,1097.2 1074.5,1099.6 1075.0,1112.5 1075.5,1110.0 1076.0,1143.4 1076.5,1125.1 1077.0,1121.7 1077.5,1143.1 1078.0,1161.2 1078.5,1143.2 1079.0,1123.6 1079.5,1144.1 1080.0,1160.6 1080.5,1134.5 1081.0,1131.9 1081.5,1156.9 1082.0,1143.8 1082.5,1129.7 1083.0,1138.2 1083.5,1134.3 1084.0,1147.7 1084.5,1145.2 1085.0,1161.6 1085.5,1155.1 1086.0,1127.0 1086.5,1151.2 1087.0,1159.1 1087.5,1152.7 1088.0,1162.0 1088.5,1140.3 1089.0,1136.3 1089.5,1161.7 1090.0,1136.0 1090.5,1124.3 1091.0,1164.7 1091.5,1141.4 1092.0,1146.7 1092.5,1135.1 1093.0,1136.6 1093.5,1139.1 1094.0,1148.5 1094.5,1158.9 1095.0,1128.3 1095.5,1166.0 1096.0,1141.9 1096.5,1143.8 1097.0,1166.7 1097.5,1156.0 1098.0,1140.4 1098.5,1186.2 1099.0,1148.9 1099.5,1162.7 1100.0,1162.4 1100.5,1181.4 1101.0,1155.1 1101.5,1175.9 1102.0,1152.6 1102.5,1178.3 1103.0,1153.0 1103.5,1157.7 1104.0,1190.8 1104.5,1167.0 1105.0,1164.0 1105.5,1196.7 1106.0,1168.3 1106.5,1154.1 1107.0,1174.4 1107.5,1150.5 1108.0,1180.8 1108.5,1182.2 1109.0,1157.8 1109.5,1157.4 1110.0,1167.1 1110.5,1164.6 1111.0,1153.6 1111.5,1172.7 1112.0,1141.8 1112.5,1159.1 1113.0,1159.3 1113.5,1160.5 1114.0,1168.0 1114.5,1149.8 1115.0,1171.7 1115.5,1160.7 1116.0,1155.3 1116.5,1147.3 1117.0,1149.1 1117.5,1167.0 1118.0,1151.0 1118.5,1162.1 1119.0,1176.9 1119.5,1176.3 1120.0,1184.0 1120.5,1157.3 1121.0,1148.8 1121.5,1175.7 1122.0,1165.0 1122.5,1177.2 1123.0,1160.7 1123.5,1178.5 1124.0,1173.4 1124.5,1171.6 1125.0,1168.6 1125.5,1167.1 1126.0,1164.6 1126.5,1164.6 1127.0,1175.9 1127.5,1155.8 1128.0,1186.9 1128.5,1160.0 1129.0,1175.7 1129.5,1160.0 1130.0,1158.2 1130.5,1190.6 1131.0,1157.1 1131.5,1146.5 1132.0,1152.1 1132.5,1155.8 1133.0,1190.3 1133.5,1161.0 1134.0,1171.0 1134.5,1146.0 1135.0,1160.8 1135.5,1164.5 1136.0,1179.9 1136.5,1145.1 1137.0,1159.9 1137.5,1154.1 1138.0,1137.6 1138.5,1146.4 1139.0,1142.0 1139.5,1118.7 1140.0,1149.2 1140.5,1146.1 1141.0,1131.4 1141.5,1119.5 1142.0,1150.5 1142.5,1130.0 1143.0,1136.1 1143.5,1136.6 1144.0,1107.5 1144.5,1116.9 1145.0,1097.6 1145.5,1091.5 1146.0,1082.7 1146.5,1073.7 1147.0,1073.8 1147.5,1052.4 1148.0,1038.2 1148.5,1025.4 1149.0,1015.6 1149.5,1002.4 1150.0,995.3 1150.5,991.0 1150.8,990.2 1151.0,991.6 1151.5,1006.2 1152.0,1029.2 1152.5,1064.2 1153.0,1086.7 1153.5,1099.0 1154.0,1107.6 1154.5,1145.6 1155.0,1129.5 1155.5,1129.7 1156.0,1138.8 1156.5,1141.8 1157.0,1159.8 1157.5,1141.5 1158.0,1173.0 1158.5,1135.4 1159.0,1155.3 1159.5,1136.1 1160.0,1173.0 1160.5,1144.4 1161.0,1147.8 1161.5,1162.1 1162.0,1167.3 1162.5,1138.5 1163.0,1146.8 1163.5,1136.4 1164.0,1153.0 1164.5,1150.3 1165.0,1148.0 1165.5,1144.7 1166.0,1147.9 1166.5,1144.3 1167.0,1159.5 1167.5,1173.4 1168.0,1132.2 1168.5,1150.6 1169.0,1147.4 1169.5,1158.4 1170.0,1141.6 1170.5,1149.6 1171.0,1140.4 1171.5,1160.5 1172.0,1151.9 1172.5,1148.7 1173.0,1155.3 1173.5,1147.4 1174.0,1134.0 1174.5,1157.9 1175.0,1153.4 1175.5,1147.7 1176.0,1162.9 1176.5,1166.0 1177.0,1137.8 1177.5,1140.8 1178.0,1170.1 1178.5,1168.2 1179.0,1140.8 1179.5,1136.2 1180.0,1141.5 1180.5,1142.7 1181.0,1131.6 1181.5,1147.7 1182.0,1134.3 1182.5,1134.8 1183.0,1159.4 1183.5,1139.7 1184.0,1145.6 1184.5,1154.8 1185.0,1157.2 1185.5,1142.5 1186.0,1146.3 1186.5,1137.4 1187.0,1169.5 1187.5,1154.2 1188.0,1134.2 1188.5,1144.9 1189.0,1154.4 1189.5,1150.8 1190.0,1168.8 1190.5,1161.9 1191.0,1137.0 1191.5,1140.4 1192.0,1127.3 1192.5,1141.4 1193.0,1137.7 1193.5,1164.6 1194.0,1129.9 1194.5,1104.2 1195.0,1111.4 1195.5,1111.0 1196.0,1091.4 1196.5,1085.0 1197.0,1077.1 1197.5,1068.3 1198.0,1056.3 1198.5,1048.7 1199.0,1046.2 1199.5,1048.6 1200.0,1055.4 1200.5,1062.6 1201.0,1074.4 1201.5,1094.5 1202.0,1087.6 1202.5,1107.7 1203.0,1124.5 1203.5,1118.2 1204.0,1129.6 1204.5,1119.6 1205.0,1150.5 1205.5,1149.9 1206.0,1140.0 1206.5,1121.1 1207.0,1128.8 1207.5,1152.5 1208.0,1162.8 1208.5,1143.9 1209.0,1156.5 1209.5,1133.6 1210.0,1137.1 1210.5,1138.2 1211.0,1142.8 1211.5,1121.1 1212.0,1146.6 1212.5,1149.6 1213.0,1118.7 1213.5,1113.9 1214.0,1127.6 1214.5,1113.4 1215.0,1095.4 1215.5,1117.9 1216.0,1106.0 1216.5,1097.7 1217.0,1102.4 1217.5,1091.7 1218.0,1089.4 1218.3,1089.2 1218.5,1089.4 1219.0,1090.4 1219.5,1093.2 1220.0,1101.6 1220.5,1101.8 1221.0,1107.2 1221.5,1134.1 1222.0,1130.8 1222.5,1134.9 1223.0,1135.4 1223.5,1138.2 1224.0,1153.9 1224.5,1136.8 1225.0,1163.7 1225.5,1131.3 1226.0,1139.3 1226.5,1129.4 1227.0,1140.2 1227.5,1151.1 1228.0,1164.1 1228.5,1138.5 1229.0,1145.3 1229.5,1141.9 1230.0,1138.3 1230.5,1134.1 1231.0,1146.6 1231.5,1129.0 1232.0,1147.4 1232.5,1146.3 1233.0,1139.7 1233.5,1136.3 1234.0,1132.8 1234.5,1171.6 1235.0,1133.4 1235.5,1167.6 1236.0,1154.8 1236.5,1143.3 1237.0,1135.7 1237.5,1161.2 1238.0,1170.6 1238.5,1138.4 1239.0,1144.8 1239.5,1162.0 1240.0,1152.6 1240.5,1175.3 1241.0,1143.2 1241.5,1156.4 1242.0,1137.3 1242.5,1178.0 1243.0,1143.1 1243.5,1129.2 1244.0,1149.8 1244.5,1150.1 1245.0,1177.7 1245.5,1149.0 1246.0,1152.7 1246.5,1161.2 1247.0,1175.0 1247.5,1153.5 1248.0,1168.5 1248.5,1161.9 1249.0,1152.4 1249.5,1156.7 1250.0,1156.4 1250.5,1147.5 1251.0,1173.0 1251.5,1143.6 1252.0,1173.0 1252.5,1170.4 1253.0,1156.8 1253.5,1150.5 1254.0,1155.9 1254.5,1164.7 1255.0,1168.5 1255.5,1162.4 1256.0,1172.1 1256.5,1153.4 1257.0,1162.1 1257.5,1143.8 1258.0,1169.3 1258.5,1161.1 1259.0,1155.1 1259.5,1174.8 1260.0,1168.4 1260.5,1135.9 1261.0,1159.6 1261.5,1144.9 1262.0,1173.3 1262.5,1191.1 1263.0,1153.7 1263.5,1159.6 1264.0,1156.0 1264.5,1162.9 1265.0,1166.6 1265.5,1175.0 1266.0,1147.9 1266.5,1178.3 1267.0,1147.9 1267.5,1160.3 1268.0,1171.8 1268.5,1165.5 1269.0,1146.6 1269.5,1148.5 1270.0,1150.6 1270.5,1154.3 1271.0,1169.9 1271.5,1141.7 1272.0,1160.3 1272.5,1162.0 1273.0,1161.1 1273.5,1159.7 1274.0,1173.7 1274.5,1159.7 1275.0,1164.6 1275.5,1160.6 1276.0,1177.1 1276.5,1134.6 1277.0,1170.2 1277.5,1150.5 1278.0,1150.4 1278.5,1143.9 1279.0,1135.3 1279.5,1149.9 1280.0,1147.1 1280.5,1160.6 1281.0,1140.0 1281.5,1173.6 1282.0,1158.4 1282.5,1152.6 1283.0,1148.4 1283.5,1148.0 1284.0,1144.9 1284.5,1150.9 1285.0,1156.5 1285.5,1154.9 1286.0,1143.2 1286.5,1154.4 1287.0,1148.5 1287.5,1159.3 1288.0,1182.2 1288.5,1165.6 1289.0,1154.2 1289.5,1141.4 1290.0,1143.2 1290.5,1140.4 1291.0,1166.0 1291.5,1148.5 1292.0,1156.1 1292.5,1148.6 1293.0,1154.9 1293.5,1171.1 1294.0,1144.5 1294.5,1146.0 1295.0,1139.7 1295.5,1154.5 1296.0,1133.7 1296.5,1131.2 1297.0,1128.7 1297.5,1127.9 1298.0,1129.3 1298.5,1127.6 1298.7,1127.2 1299.0,1127.4 1299.5,1130.9 1300.0,1133.3 1300.5,1131.0 1301.0,1138.1 1301.5,1141.6 1302.0,1140.8 1302.5,1173.8 1303.0,1134.1 1303.5,1159.0 1304.0,1160.0 1304.5,1151.4 1305.0,1160.0 1305.5,1170.6 1306.0,1161.7 1306.5,1165.8 1307.0,1170.0 1307.5,1141.7 1308.0,1181.4 1308.5,1192.4 1309.0,1175.5 1309.5,1176.2 1310.0,1149.5 1310.5,1162.2 1311.0,1155.8 1311.5,1158.2 1312.0,1176.9 1312.5,1156.5 1313.0,1163.1 1313.5,1146.2 1314.0,1163.1 1314.5,1165.9 1315.0,1158.0 1315.5,1157.9 1316.0,1189.9 1316.5,1153.0 1317.0,1154.3 1317.5,1156.4 1318.0,1179.8 1318.5,1191.3 1319.0,1167.1 1319.5,1155.1 1320.0,1156.9 1320.5,1174.0 1321.0,1149.8 1321.5,1176.0 1322.0,1173.5 1322.5,1153.8 1323.0,1158.5 1323.5,1156.5 1324.0,1160.6 1324.5,1137.1 1325.0,1146.8 1325.5,1138.0 1326.0,1137.1 1326.6,1137.2 1327.0,1137.5 1327.5,1137.3 1328.0,1135.4 1328.5,1137.7 1329.0,1157.5 1329.5,1167.8 1330.0,1156.8 1330.5,1166.5 1331.0,1149.1 1331.5,1155.3 1332.0,1161.7 1332.5,1149.4 1333.0,1151.9 1333.5,1164.0 1334.0,1160.9 1334.5,1154.9 1335.0,1171.1 1335.5,1164.4 1336.0,1181.3 1336.5,1168.5 1337.0,1166.3 1337.5,1171.6 1338.0,1168.9 1338.5,1164.8 1339.0,1167.9 1339.5,1182.3 1340.0,1181.5 1340.5,1190.6 1341.0,1157.8 1341.5,1170.8 1342.0,1171.1 1342.5,1177.9 1343.0,1171.8 1343.5,1171.8 1344.0,1187.6 1344.5,1180.1 1345.0,1167.1 1345.5,1196.5 1346.0,1192.6 1346.5,1174.4 1347.0,1191.5 1347.5,1174.0 1348.0,1196.6 1348.5,1180.2 1349.0,1175.2 1349.5,1179.9 1350.0,1176.8 1350.5,1187.0 1351.0,1187.1 1351.5,1185.6 1352.0,1180.1 1352.5,1162.8 1353.0,1187.3 1353.5,1168.2 1354.0,1189.8 1354.5,1201.7 1355.0,1190.6 1355.5,1183.4 1356.0,1185.5 1356.5,1186.0 1357.0,1182.1 1357.5,1181.8 1358.0,1178.6 1358.5,1203.2 1359.0,1187.4 1359.5,1200.2 1360.0,1185.2 1360.5,1188.6 1361.0,1186.0 1361.5,1193.9 1362.0,1198.7 1362.5,1191.0 1363.0,1181.5 1363.5,1180.6 1364.0,1210.1 1364.5,1185.6 1365.0,1185.6 1365.5,1207.9 1366.0,1203.0 1366.5,1195.8 1367.0,1185.1 1367.5,1220.1 1368.0,1194.3 1368.5,1196.5 1369.0,1187.7 1369.5,1176.0 1370.0,1176.9 1370.5,1195.2 1371.0,1195.1 1371.5,1187.8 1372.0,1179.1 1372.5,1176.6 1373.0,1187.4 1373.5,1176.8 1374.0,1202.7 1374.5,1206.2 1375.0,1222.8 1375.5,1202.5 1376.0,1185.0 1376.5,1182.1 1377.0,1167.3 1377.5,1184.3 1378.0,1188.0 1378.5,1202.1 1379.0,1197.1 1379.5,1196.5 1380.0,1191.2 1380.5,1196.8 1381.0,1206.8 1381.5,1177.2 1382.0,1182.6 1382.5,1173.3 1383.0,1207.5 1383.5,1202.8 1384.0,1195.2 1384.5,1173.5 1385.0,1186.7 1385.5,1181.7 1386.0,1184.5 1386.5,1181.1 1387.0,1189.2 1387.5,1178.0 1388.0,1192.3 1388.5,1183.5 1389.0,1176.6 1389.5,1177.2 1390.0,1172.7 1390.5,1184.7 1391.0,1170.1 1391.5,1171.5 1392.0,1162.2 1392.5,1153.7 1393.0,1155.3 1393.5,1147.8 1394.0,1146.2 1394.5,1148.1 1395.0,1149.4 1395.5,1154.2 1396.0,1159.5 1396.5,1160.4 1397.0,1159.4 1397.5,1179.7 1398.0,1169.8 1398.5,1177.8 1399.0,1169.2 1399.5,1177.5 1400.0,1166.4 1400.5,1173.5 1401.0,1181.6 1401.5,1174.7 1402.0,1169.9 1402.5,1164.0 1403.0,1176.6 1403.5,1179.1 1404.0,1172.2 1404.5,1167.5 1405.0,1182.0 1405.5,1206.5 1406.0,1172.2 1406.5,1179.6 1407.0,1180.1 1407.5,1152.5 1408.0,1176.9 1408.5,1168.5 1409.0,1193.4 1409.5,1172.7 1410.0,1167.6 1410.5,1172.8 1411.0,1176.9 1411.5,1169.2 1412.0,1173.8 1412.5,1161.3 1413.0,1171.8 1413.5,1183.9 1414.0,1199.3 1414.5,1182.5 1415.0,1176.6 1415.5,1188.4 1416.0,1186.1 1416.5,1194.5 1417.0,1186.8 1417.5,1171.4 1418.0,1176.0 1418.5,1175.0 1419.0,1176.7 1419.5,1175.5 1420.0,1165.7 1420.5,1153.4 1421.0,1167.2 1421.5,1154.7 1422.0,1175.0 1422.5,1174.5 1423.0,1158.9 1423.5,1184.0 1424.0,1186.7 1424.5,1176.9 1425.0,1197.7 1425.5,1200.6 1426.0,1164.9 1426.5,1190.0 1427.0,1182.2 1427.5,1182.0 1428.0,1188.7 1428.5,1169.5 1429.0,1170.6 1429.5,1168.1 1430.0,1168.5 1430.5,1174.3 1431.0,1161.1 1431.5,1164.4 1432.0,1181.3 1432.5,1172.4 1433.0,1177.5 1433.5,1153.9 1434.0,1163.5 1434.5,1164.8 1435.0,1169.5 1435.5,1162.5 1436.0,1178.9 1436.5,1164.7 1437.0,1163.6 1437.5,1161.4 1438.0,1167.6 1438.5,1150.7 1439.0,1165.0 1439.5,1151.1 1440.0,1140.7 1440.5,1131.5 1441.0,1127.4 1441.5,1121.0 1442.0,1107.2 1442.5,1089.5 1443.0,1078.4 1443.5,1064.0 1444.0,1056.1 1444.5,1050.6 1444.7,1050.2 1445.0,1050.9 1445.5,1057.7 1446.0,1065.9 1446.5,1073.4 1447.0,1088.6 1447.5,1096.5 1448.0,1134.1 1448.5,1129.0 1449.0,1119.0 1449.5,1146.4 1450.0,1142.1 1450.5,1174.8 1451.0,1144.4 1451.5,1136.1 1452.0,1159.9 1452.5,1157.4 1453.0,1157.8 1453.5,1142.5 1454.0,1168.7 1454.5,1185.3 1455.0,1146.0 1455.5,1179.3 1456.0,1158.9 1456.5,1194.9 1457.0,1170.1 1457.5,1162.7 1458.0,1178.9 1458.5,1171.3 1459.0,1158.9 1459.5,1173.7 1460.0,1159.5 1460.5,1147.4 1461.0,1190.2 1461.5,1160.0 1462.0,1156.9 1462.5,1165.9 1463.0,1145.7 1463.5,1145.9 1464.0,1151.4 1464.5,1148.4 1465.0,1149.8 1465.5,1154.8 1466.0,1137.4 1466.5,1136.8 1467.0,1131.2 1467.5,1126.0 1468.0,1125.2 1468.5,1126.1 1469.0,1132.4 1469.5,1137.1 1470.0,1141.0 1470.5,1137.8 1471.0,1153.0 1471.5,1149.9 1472.0,1169.0 1472.5,1162.3 1473.0,1158.5 1473.5,1180.0 1474.0,1179.0 1474.5,1165.4 1475.0,1187.0 1475.5,1169.9 1476.0,1170.2 1476.5,1174.9 1477.0,1166.3 1477.5,1168.9 1478.0,1170.8 1478.5,1189.2 1479.0,1185.5 1479.5,1164.9 1480.0,1175.1 1480.5,1159.8 1481.0,1157.5 1481.5,1154.7 1482.0,1153.2 1482.5,1155.7 1483.0,1157.1 1483.5,1155.6 1484.0,1172.3 1484.5,1162.8 1485.0,1165.4 1485.5,1148.8 1486.0,1182.9 1486.5,1181.5 1487.0,1181.6 1487.5,1184.1 1488.0,1193.3 1488.5,1170.7 1489.0,1182.9 1489.5,1163.4 1490.0,1166.5 1490.5,1182.7 1491.0,1173.3 1491.5,1154.9 1492.0,1170.8 1492.5,1163.1 1493.0,1155.7 1493.5,1167.0 1494.0,1155.5 1494.5,1142.1 1495.0,1143.3 1495.5,1171.8 1496.0,1132.0 1496.5,1142.9 1497.0,1141.3 1497.5,1134.5 1498.0,1114.5 1498.5,1113.2 1499.0,1108.5 1499.5,1103.9 1500.0,1099.0 1500.4,1098.2 1501.0,1101.0 1501.5,1107.3 1502.0,1112.5 1502.5,1114.9 1503.0,1128.5 1503.5,1132.9 1504.0,1147.5 1504.5,1132.6 1505.0,1149.5 1505.5,1150.6 1506.0,1145.1 1506.5,1160.7 1507.0,1160.6 1507.5,1158.1 1508.0,1168.4 1508.5,1151.2 1509.0,1164.8 1509.5,1171.6 1510.0,1170.3 1510.5,1181.0 1511.0,1156.4 1511.5,1153.9 1512.0,1171.3 1512.5,1174.3 1513.0,1196.0 1513.5,1176.8 1514.0,1160.8 1514.5,1179.4 1515.0,1161.2 1515.5,1155.2 1516.0,1200.0 1516.5,1173.1 1517.0,1178.0 1517.5,1175.8 1518.0,1191.6 1518.5,1171.6 1519.0,1183.2 1519.5,1157.4 1520.0,1153.4 1520.5,1184.0 1521.0,1183.7 1521.5,1170.1 1522.0,1165.0 1522.5,1162.5 1523.0,1151.9 1523.5,1174.8 1524.0,1160.2 1524.5,1154.1 1525.0,1147.6 1525.5,1147.8 1526.0,1136.3 1526.5,1130.5 1527.0,1120.4 1527.5,1118.8 1528.0,1117.2 1528.5,1118.3 1529.0,1122.0 1529.5,1131.3 1530.0,1139.8 1530.5,1144.7 1531.0,1132.3 1531.5,1155.0 1532.0,1142.8 1532.5,1149.1 1533.0,1166.1 1533.5,1158.4 1534.0,1173.0 1534.5,1194.6 1535.0,1174.6 1535.5,1174.5 1536.0,1157.3 1536.5,1159.9 1537.0,1156.1 1537.5,1161.1 1538.0,1155.9 1538.5,1159.9 1539.0,1163.9 1539.5,1156.5 1540.0,1152.5 1540.5,1152.9 1541.0,1171.2 1541.5,1166.0 1542.0,1178.2 1542.5,1178.3 1543.0,1161.5 1543.5,1173.0 1544.0,1150.8 1544.5,1193.0 1545.0,1178.5 1545.5,1160.5 1546.0,1150.7 1546.5,1165.0 1547.0,1141.4 1547.5,1149.3 1548.0,1162.5 1548.5,1151.0 1549.0,1142.7 1549.5,1149.5 1550.0,1132.5 1550.5,1133.1 1551.0,1127.6 1551.5,1125.5 1551.8,1125.2 1552.0,1125.4 1552.5,1126.6 1553.0,1137.1 1553.5,1133.9 1554.0,1156.7 1554.5,1138.6 1555.0,1157.3 1555.5,1144.1 1556.0,1145.6 1556.5,1162.1 1557.0,1170.7 1557.5,1152.0 1558.0,1180.1 1558.5,1158.6 1559.0,1168.4 1559.5,1172.2 1560.0,1175.4 1560.5,1151.6 1561.0,1189.3 1561.5,1176.1 1562.0,1165.2 1562.5,1159.9 1563.0,1153.8 1563.5,1156.9 1564.0,1176.3 1564.5,1166.0 1565.0,1158.5 1565.5,1163.6 1566.0,1187.9 1566.5,1164.2 1567.0,1160.9 1567.5,1182.3 1568.0,1169.6 1568.5,1162.5 1569.0,1154.3 1569.5,1143.5 1570.0,1144.3 1570.5,1147.1 1571.0,1145.7 1571.5,1146.5 1572.0,1143.0 1572.5,1136.3 1573.0,1132.6 1573.5,1129.5 1574.0,1129.2 1574.5,1131.2 1575.0,1135.5 1575.5,1142.0 1576.0,1149.8 1576.5,1149.2 1577.0,1153.8 1577.5,1165.4 1578.0,1170.6 1578.5,1165.3 1579.0,1179.1 1579.5,1171.8 1580.0,1165.2 1580.5,1175.6 1581.0,1199.1 1581.5,1169.0 1582.0,1189.0 1582.5,1189.8 1583.0,1188.1 1583.5,1164.2 1584.0,1180.7 1584.5,1162.8 1585.0,1157.6 1585.5,1154.4 1586.0,1153.2 1586.5,1155.0 1587.0,1158.5 1587.5,1169.3 1588.0,1163.7 1588.5,1163.8 1589.0,1181.7 1589.5,1183.1 1590.0,1189.5 1590.5,1167.1 1591.0,1191.0 1591.5,1183.8 1592.0,1200.4 1592.5,1166.6 1593.0,1181.0 1593.5,1175.8 1594.0,1163.8 1594.5,1172.0 1595.0,1193.0 1595.5,1174.4 1596.0,1172.2 1596.5,1190.0 1597.0,1191.6 1597.5,1191.6 1598.0,1171.9 1598.5,1178.6 1599.0,1192.3 1599.5,1173.2 1600.0,1172.3 1600.5,1189.5 1601.0,1198.5 1601.5,1167.6 1602.0,1155.6 1602.5,1163.6 1603.0,1166.6 1603.5,1173.1 1604.0,1179.6 1604.5,1168.8 1605.0,1162.1 1605.5,1164.4 1606.0,1155.8 1606.5,1155.1 1607.0,1151.5 1607.6,1150.2 1608.0,1151.3 1608.5,1152.7 1609.0,1155.0 1609.5,1160.4 1610.0,1156.4 1610.5,1165.0 1611.0,1167.5 1611.5,1186.9 1612.0,1174.3 1612.5,1172.5 1613.0,1168.6 1613.5,1171.0 1614.0,1181.9 1614.5,1181.1 1615.0,1198.0 1615.5,1178.2 1616.0,1197.7 1616.5,1187.8 1617.0,1184.6 1617.5,1166.4 1618.0,1173.1 1618.5,1194.3 1619.0,1202.6 1619.5,1187.3 1620.0,1194.1 1620.5,1180.3 1621.0,1180.1 1621.5,1176.7 1622.0,1194.1 1622.5,1184.9 1623.0,1176.9 1623.5,1174.2 1624.0,1181.7 1624.5,1176.0 1625.0,1161.5 1625.5,1184.5 1626.0,1163.5 1626.5,1156.3 1627.0,1161.2 1627.5,1151.0 1628.0,1142.4 1628.5,1140.2 1629.0,1139.2 1629.5,1140.3 1630.0,1140.3 1630.5,1153.6 1631.0,1144.4 1631.5,1164.8 1632.0,1157.8 1632.5,1160.6 1633.0,1171.1 1633.5,1179.6 1634.0,1187.1 1634.5,1204.3 1635.0,1188.8 1635.5,1197.3 1636.0,1182.3 1636.5,1198.1 1637.0,1192.1 1637.5,1186.9 1638.0,1191.1 1638.5,1192.1 1639.0,1195.7 1639.5,1198.9 1640.0,1189.6 1640.5,1188.0 1641.0,1204.6 1641.5,1180.1 1642.0,1190.3 1642.5,1215.9 1643.0,1174.7 1643.5,1190.6 1644.0,1206.0 1644.5,1182.6 1645.0,1228.3 1645.5,1176.1 1646.0,1216.2 1646.5,1217.7 1647.0,1209.6 1647.5,1196.0 1648.0,1202.6 1648.5,1189.9 1649.0,1208.3 1649.5,1187.8 1650.0,1195.5 1650.5,1210.6 1651.0,1187.8 1651.5,1194.7 1652.0,1200.1 1652.5,1185.8 1653.0,1212.7 1653.5,1202.3 1654.0,1184.2 1654.5,1197.6 1655.0,1191.0 1655.5,1192.2 1656.0,1199.2 1656.5,1191.8 1657.0,1210.4 1657.5,1191.9 1658.0,1210.7 1658.5,1197.9 1659.0,1209.1 1659.5,1193.3 1660.0,1193.6 1660.5,1187.6 1661.0,1205.3 1661.5,1209.7 1662.0,1224.4 1662.5,1213.7 1663.0,1200.4 1663.5,1195.0 1664.0,1201.5 1664.5,1196.0 1665.0,1214.2 1665.5,1207.2 1666.0,1187.1 1666.5,1187.7 1667.0,1210.4 1667.5,1196.1 1668.0,1189.0 1668.5,1204.6 1669.0,1184.6 1669.5,1183.8 1670.0,1179.9 1670.5,1164.1 1671.0,1189.2 1671.5,1164.8 1672.0,1166.7 1672.5,1161.5 1673.0,1170.3 1673.5,1158.0 1674.0,1154.0 1674.5,1144.7 1675.0,1146.2 1675.5,1143.5 1676.0,1143.2 1676.5,1144.1 1677.0,1146.0 1677.5,1157.9 1678.0,1156.7 1678.5,1162.7 1679.0,1163.5 1679.5,1164.7 1680.0,1181.3 1680.5,1186.8 1681.0,1165.1 1681.5,1192.0 1682.0,1187.5 1682.5,1194.6 1683.0,1189.7 1683.5,1173.5 1684.0,1174.4 1684.5,1207.3 1685.0,1187.0 1685.5,1170.1 1686.0,1184.7 1686.5,1175.0 1687.0,1161.0 1687.5,1156.2 1688.0,1158.4 1688.5,1162.6 1689.0,1157.1 1689.5,1154.0 1690.0,1153.2 1690.5,1155.0 1691.0,1154.9 1691.5,1162.0 1692.0,1164.3 1692.5,1165.6 1693.0,1174.0 1693.5,1181.1 1694.0,1183.2 1694.5,1175.4 1695.0,1186.1 1695.5,1217.2 1696.0,1183.8 1696.5,1179.1 1697.0,1198.5 1697.5,1203.0 1698.0,1201.7 1698.5,1186.0 1699.0,1208.8 1699.5,1189.3 1700.0,1186.2 1700.5,1190.9 1701.0,1195.4 1701.5,1205.2 1702.0,1204.0 1702.5,1195.9 1703.0,1207.8 1703.5,1197.0 1704.0,1207.2 1704.5,1183.3 1705.0,1181.8 1705.5,1205.8 1706.0,1183.6 1706.5,1193.6 1707.0,1195.6 1707.5,1192.2 1708.0,1192.8 1708.5,1214.6 1709.0,1175.8 1709.5,1208.8 1710.0,1226.8 1710.5,1198.7 1711.0,1198.5 1711.5,1208.1 1712.0,1222.2 1712.5,1188.8 1713.0,1200.9 1713.5,1198.3 1714.0,1207.2 1714.5,1202.3 1715.0,1208.7 1715.5,1196.7 1716.0,1201.1 1716.5,1194.5 1717.0,1194.5 1717.5,1199.2 1718.0,1199.1 1718.5,1189.7 1719.0,1219.8 1719.5,1198.8 1720.0,1187.4 1720.5,1213.5 1721.0,1192.8 1721.5,1205.8 1722.0,1199.1 1722.5,1202.2 1723.0,1200.9 1723.5,1193.4 1724.0,1198.8 1724.5,1223.5 1725.0,1177.6 1725.5,1198.3 1726.0,1202.5 1726.5,1187.2 1727.0,1183.8 1727.5,1222.6 1728.0,1191.6 1728.5,1220.0 1729.0,1199.7 1729.5,1192.7 1730.0,1195.8 1730.5,1195.3 1731.0,1197.8 1731.5,1186.4 1732.0,1180.2 1732.5,1176.3 1733.0,1175.0 1733.5,1169.7 1734.0,1168.2 1734.5,1169.0 1735.0,1172.9 1735.5,1174.0 1736.0,1178.2 1736.5,1177.8 1737.0,1185.4 1737.5,1195.1 1738.0,1204.6 1738.5,1194.7 1739.0,1221.8 1739.5,1196.7 1740.0,1228.2 1740.5,1211.5 1741.0,1205.8 1741.5,1195.5 1742.0,1178.8 1742.5,1199.3 1743.0,1203.1 1743.5,1225.1 1744.0,1188.9 1744.5,1225.2 1745.0,1199.3 1745.5,1210.6 1746.0,1180.1 1746.5,1203.4 1747.0,1198.7 1747.5,1210.3 1748.0,1202.9 1748.5,1191.5 1749.0,1213.6 1749.5,1210.4 1750.0,1209.1 1750.5,1214.2 1751.0,1215.3 1751.5,1201.3 1752.0,1189.2 1752.5,1188.9 1753.0,1218.0 1753.5,1209.9 1754.0,1202.1 1754.5,1196.8 1755.0,1200.9 1755.5,1200.7 1756.0,1197.2 1756.5,1193.8 1757.0,1226.8 1757.5,1202.5 1758.0,1194.1 1758.5,1187.8 1759.0,1192.8 1759.5,1208.2 1760.0,1208.6 1760.5,1197.1 1761.0,1199.7 1761.5,1196.3 1762.0,1189.1 1762.5,1215.2 1763.0,1203.7 1763.5,1228.9 1764.0,1192.4 1764.5,1198.0 1765.0,1210.3 1765.5,1197.2 1766.0,1187.1 1766.5,1191.1 1767.0,1200.9 1767.5,1204.0 1768.0,1199.0 1768.5,1212.3 1769.0,1212.3 1769.5,1204.0 1770.0,1200.3 1770.5,1197.7 1771.0,1206.8 1771.5,1211.2 1772.0,1200.2 1772.5,1204.1 1773.0,1194.4 1773.5,1183.1 1774.0,1183.3 1774.5,1192.1 1775.0,1181.5 1775.5,1178.0 1776.0,1164.1 1776.5,1159.5 1777.0,1157.2 1777.5,1159.5 1778.0,1162.8 1778.5,1169.9 1779.0,1178.7 1779.5,1178.2 1780.0,1194.8"/>
<polyline clip-path="url(#plotclip)" stroke="#008000" stroke-width="6.4" points="197.0,1363.8 197.5,1380.2 198.0,1378.5 198.5,1358.8 199.0,1360.7 199.5,1358.7 200.0,1370.5 200.5,1363.0 201.0,1372.8 201.5,1347.2 202.0,1383.2 202.5,1363.1 203.0,1372.5 203.5,1363.1 204.0,1361.1 204.5,1370.4 205.0,1375.0 205.5,1363.2 206.0,1363.9 206.5,1373.9 207.0,1357.9 207.5,1352.3 208.0,1371.0 208.5,1360.3 209.0,1349.4 209.5,1359.4 210.0,1362.8 210.5,1356.5 211.0,1354.0 211.5,1368.0 212.0,1378.8 212.5,1365.7 213.0,1361.3 213.5,1372.9 214.0,1377.1 214.5,1365.7 215.0,1375.2 215.5,1381.5 216.0,1366.8 216.5,1361.5 217.0,1373.1 217.5,1371.9 218.0,1382.6 218.5,1357.5 219.0,1363.1 219.5,1361.6 220.0,1353.6 220.5,1370.7 221.0,1375.7 221.5,1362.6 222.0,1386.3 222.5,1380.1 223.0,1378.5 223.5,1376.5 224.0,1384.2 224.5,1361.2 225.0,1381.5 225.5,1382.2 226.0,1359.7 226.5,1380.5 227.0,1374.7 227.5,1387.4 228.0,1374.6 228.5,1379.1 229.0,1384.3 229.5,1373.0 230.0,1389.0 230.5,1381.5 231.0,1389.3 231.5,1379.4 232.0,1398.3 232.5,1393.2 233.0,1385.0 233.5,1394.1 234.0,1401.6 234.5,1407.9 235.0,1371.4 235.5,1396.2 236.0,1390.8 236.5,1384.0 237.0,1375.7 237.5,1400.1 238.0,1373.1 238.5,1391.3 239.0,1400.2 239.5,1369.7 240.0,1381.1 240.5,1372.0 241.0,1386.5 241.5,1402.0 242.0,1408.0 242.5,1366.8 243.0,1377.2 243.5,1390.6 244.0,1401.1 244.5,1386.4 245.0,1374.0 245.5,1383.4 246.0,1378.2 246.5,1374.5 247.0,1367.4 247.5,1371.9 248.0,1365.1 248.5,1356.6 249.0,1350.8 249.5,1346.3 250.0,1345.2 250.5,1347.3 251.0,1350.1 251.5,1350.8 252.0,1369.9 252.5,1370.1 253.0,1390.9 253.5,1372.2 254.0,1369.1 254.5,1361.3 255.0,1390.8 255.5,1404.4 256.0,1367.6 256.5,1369.2 257.0,1382.4 257.5,1367.7 258.0,1372.7 258.5,1372.0 259.0,1377.5 259.5,1388.7 260.0,1375.4 260.5,1386.5 261.0,1371.0 261.5,1378.2 262.0,1354.5 262.5,1360.0 263.0,1382.2 263.5,1366.4 264.0,1378.1 264.5,1376.9 265.0,1385.9 265.5,1378.8 266.0,1380.6 266.5,1366.3 267.0,1360.3 267.5,1359.3 268.0,1360.8 268.5,1354.3 269.0,1358.8 269.5,1362.1 270.0,1365.4 270.5,1358.6 271.0,1343.8 271.5,1359.7 272.0,1362.5 272.5,1372.5 273.0,1365.7 273.5,1352.2 274.0,1350.9 274.5,1381.7 275.0,1365.7 275.5,1378.4 276.0,1381.7 276.5,1347.8 277.0,1359.6 277.5,1360.2 278.0,1361.1 278.5,1360.6 279.0,1356.0 279.5,1355.2 280.0,1339.0 280.5,1350.2 281.0,1343.9 281.5,1350.6 282.0,1343.0 282.5,1351.2 283.0,1349.3 283.5,1339.4 284.0,1334.3 284.5,1328.0 285.0,1322.8 285.5,1320.5 286.0,1319.2 286.5,1319.8 287.0,1322.2 287.5,1328.2 288.0,1323.0 288.5,1341.0 289.0,1330.8 289.5,1333.2 290.0,1339.5 290.5,1337.7 291.0,1347.2 291.5,1339.2 292.0,1335.1 292.5,1337.3 293.0,1361.1 293.5,1344.6 294.0,1332.9 294.5,1342.5 295.0,1327.7 295.5,1362.8 296.0,1326.4 296.5,1345.0 297.0,1345.0 297.5,1324.7 298.0,1340.5 298.5,1348.3 299.0,1341.0 299.5,1337.7 300.0,1345.4 300.5,1334.9 301.0,1336.3 301.5,1330.3 302.0,1337.0 302.5,1318.7 303.0,1334.6 303.5,1318.2 304.0,1310.8 304.5,1322.7 305.0,1336.8 305.5,1325.6 306.0,1307.0 306.5,1317.9 307.0,1302.9 307.5,1303.2 308.0,1302.7 308.5,1278.6 309.0,1298.6 309.5,1284.5 310.0,1284.6 310.5,1275.0 311.0,1271.8 311.5,1273.9 312.0,1289.1 312.5,1294.9 313.0,1270.2 313.5,1279.0 314.0,1259.0 314.5,1240.1 315.0,1253.6 315.5,1252.3 316.0,1238.3 316.5,1240.5 317.0,1238.4 317.5,1219.0 318.0,1208.4 318.5,1213.4 319.0,1209.2 319.5,1204.0 320.0,1213.9 320.5,1217.7 321.0,1190.3 321.5,1196.4 322.0,1193.6 322.5,1185.4 323.0,1182.6 323.5,1162.4 324.0,1165.3 324.5,1170.2 325.0,1150.3 325.5,1130.2 326.0,1129.0 326.5,1122.4 327.0,1102.5 327.5,1082.8 328.0,1078.0 328.5,1046.0 329.0,1032.4 329.5,1007.1 330.0,978.8 330.5,958.1 331.0,925.7 331.5,890.9 332.0,859.2 332.5,821.1 333.0,781.9 333.5,744.3 334.0,706.5 334.5,669.6 335.0,635.2 335.5,606.0 336.0,583.6 336.5,569.2 337.0,564.2 337.5,582.5 338.0,629.5 338.5,695.0 339.0,767.3 339.5,839.6 340.0,909.7 340.5,966.7 341.0,1015.2 341.5,1059.3 342.0,1089.5 342.5,1121.0 343.0,1136.9 343.5,1160.8 344.0,1161.3 344.5,1197.4 345.0,1189.3 345.5,1189.7 346.0,1208.0 346.5,1213.7 347.0,1224.6 347.5,1219.0 348.0,1238.4 348.5,1266.9 349.0,1232.3 349.5,1251.6 350.0,1249.0 350.5,1256.1 351.0,1240.2 351.5,1247.7 352.0,1265.0 352.5,1260.7 353.0,1282.1 353.5,1257.4 354.0,1266.6 354.5,1293.0 355.0,1256.4 355.5,1253.6 356.0,1258.8 356.5,1255.3 357.0,1260.9 357.5,1246.9 358.0,1232.9 358.5,1232.4 359.0,1239.5 359.5,1219.5 360.0,1197.7 360.5,1196.1 361.0,1190.9 361.5,1189.2 362.0,1190.7 362.5,1198.8 363.0,1206.0 363.5,1216.3 364.0,1221.8 364.5,1229.0 365.0,1240.7 365.5,1258.3 366.0,1255.7 366.5,1250.9 367.0,1271.9 367.5,1261.1 368.0,1259.2 368.5,1253.5 369.0,1255.3 369.5,1252.9 370.0,1235.7 370.5,1266.0 371.0,1257.9 371.5,1246.4 372.0,1257.2 372.5,1246.5 373.0,1241.7 373.5,1213.2 374.0,1226.1 374.5,1228.4 375.0,1233.8 375.5,1228.8 376.0,1216.0 376.5,1184.7 377.0,1168.6 377.5,1177.7 378.0,1160.8 378.5,1154.4 379.0,1131.5 379.5,1117.1 380.0,1091.9 380.5,1080.9 381.0,1057.2 381.5,1038.8 382.0,1017.6 382.5,995.4 383.0,976.6 383.5,959.1 384.0,946.0 384.5,936.8 385.0,933.2 385.5,955.5 386.0,1005.7 386.5,1061.8 387.0,1118.1 387.5,1160.5 388.0,1188.6 388.5,1211.6 389.0,1236.4 389.5,1260.5 390.0,1284.2 390.5,1283.4 391.0,1305.3 391.5,1315.1 392.0,1340.4 392.5,1304.4 393.0,1334.8 393.5,1328.5 394.0,1342.3 394.5,1336.2 395.0,1348.5 395.5,1364.2 396.0,1350.0 396.5,1351.6 397.0,1351.5 397.5,1340.8 398.0,1354.8 398.5,1346.8 399.0,1341.9 399.5,1349.3 400.0,1348.1 400.5,1359.9 401.0,1350.6 401.5,1346.7 402.0,1369.8 402.5,1364.4 403.0,1368.3 403.5,1360.5 404.0,1352.4 404.5,1350.0 405.0,1351.7 405.5,1366.3 406.0,1356.3 406.5,1342.1 407.0,1355.3 407.5,1343.5 408.0,1358.0 408.5,1345.3 409.0,1343.2 409.5,1348.1 410.0,1336.5 410.5,1317.3 411.0,1307.8 411.5,1294.2 412.0,1288.2 412.5,1294.8 413.0,1306.8 413.5,1323.6 414.0,1339.8 414.5,1342.5 415.0,1371.9 415.5,1367.4 416.0,1356.9 416.5,1361.6 417.0,1351.0 417.5,1361.6 418.0,1376.6 418.5,1349.9 419.0,1361.5 419.5,1367.3 420.0,1378.6 420.5,1382.5 421.0,1361.8 421.5,1359.4 422.0,1371.7 422.5,1363.0 423.0,1363.6 423.5,1379.8 424.0,1387.5 424.5,1369.9 425.0,1365.0 425.5,1373.9 426.0,1350.1 426.5,1367.0 427.0,1357.8 427.5,1397.0 428.0,1376.5 428.5,1369.5 429.0,1366.2 429.5,1346.7 430.0,1377.2 430.5,1388.8 431.0,1362.4 431.5,1377.7 432.0,1378.5 432.5,1356.1 433.0,1381.9 433.5,1387.6 434.0,1374.1 434.5,1371.2 435.0,1382.1 435.5,1359.1 436.0,1374.7 436.5,1387.2 437.0,1363.7 437.5,1387.7 438.0,1372.3 438.5,1358.1 439.0,1376.4 439.5,1369.3 440.0,1382.5 440.5,1368.7 441.0,1392.7 441.5,1373.6 442.0,1385.0 442.5,1375.7 443.0,1378.5 443.5,1396.3 444.0,1384.4 444.5,1378.2 445.0,1370.6 445.5,1393.9 446.0,1387.1 446.5,1375.6 447.0,1376.9 447.5,1368.7 448.0,1367.1 448.5,1365.7 449.0,1365.2 449.5,1366.9 450.0,1368.8 450.5,1377.3 451.0,1383.0 451.5,1382.2 452.0,1393.8 452.5,1382.3 453.0,1384.9 453.5,1392.6 454.0,1387.2 454.5,1397.8 455.0,1377.2 455.5,1406.4 456.0,1382.1 456.5,1387.8 457.0,1377.2 457.5,1397.1 458.0,1405.7 458.5,1403.4 459.0,1400.6 459.5,1376.6 460.0,1383.7 460.5,1386.7 461.0,1382.7 461.5,1405.2 462.0,1393.8 462.5,1391.6 463.0,1398.1 463.5,1383.9 464.0,1384.6 464.5,1385.2 465.0,1399.5 465.5,1398.0 466.0,1401.2 466.5,1407.8 467.0,1382.7 467.5,1390.1 468.0,1397.3 468.5,1383.8 469.0,1391.4 469.5,1409.0 470.0,1410.4 470.5,1410.4 471.0,1397.9 471.5,1395.8 472.0,1411.3 472.5,1394.9 473.0,1402.7 473.5,1415.3 474.0,1395.9 474.5,1394.0 475.0,1399.7 475.5,1407.5 476.0,1406.4 476.5,1402.7 477.0,1408.0 477.5,1387.2 478.0,1394.2 478.5,1404.2 479.0,1394.3 479.5,1390.9 480.0,1392.5 480.5,1395.2 481.0,1401.9 481.5,1394.4 482.0,1406.5 482.5,1424.7 483.0,1402.4 483.5,1419.5 484.0,1407.3 484.5,1393.8 485.0,1401.5 485.5,1395.0 486.0,1413.2 486.5,1393.3 487.0,1419.9 487.5,1410.6 488.0,1385.3 488.5,1413.0 489.0,1422.4 489.5,1395.9 490.0,1415.1 490.5,1386.7 491.0,1405.7 491.5,1387.6 492.0,1408.2 492.5,1386.2 493.0,1380.6 493.5,1406.8 494.0,1430.1 494.5,1396.4 495.0,1411.9 495.5,1403.0 496.0,1398.7 496.5,1409.2 497.0,1422.0 497.5,1390.7 498.0,1408.8 498.5,1406.2 499.0,1389.4 499.5,1422.3 500.0,1426.6 500.5,1394.2 501.0,1424.4 501.5,1403.8 502.0,1401.9 502.5,1422.2 503.0,1406.7 503.5,1408.1 504.0,1423.2 504.5,1420.6 505.0,1415.9 505.5,1392.5 506.0,1391.2 506.5,1419.4 507.0,1397.3 507.5,1407.5 508.0,1396.1 508.5,1404.1 509.0,1394.4 509.5,1425.9 510.0,1396.6 510.5,1404.5 511.0,1403.7 511.5,1420.2 512.0,1392.3 512.5,1404.5 513.0,1402.6 513.5,1410.8 514.0,1409.7 514.5,1399.4 515.0,1406.2 515.5,1399.6 516.0,1408.4 516.5,1401.3 517.0,1396.1 517.5,1401.4 518.0,1405.9 518.5,1429.2 519.0,1396.5 519.5,1404.5 520.0,1418.6 520.5,1381.8 521.0,1384.7 521.5,1389.5 522.0,1399.0 522.5,1429.7 523.0,1404.8 523.5,1414.9 524.0,1398.0 524.5,1378.5 525.0,1379.4 525.5,1412.7 526.0,1402.5 526.5,1388.7 527.0,1414.2 527.5,1386.8 528.0,1414.8 528.5,1418.9 529.0,1394.3 529.5,1391.5 530.0,1412.1 530.5,1392.1 531.0,1412.8 531.5,1391.7 532.0,1412.7 532.5,1404.1 533.0,1399.3 533.5,1395.4 534.0,1406.5 534.5,1386.9 535.0,1401.5 535.5,1400.5 536.0,1412.6 536.5,1393.0 537.0,1425.5 537.5,1401.5 538.0,1394.0 538.5,1421.3 539.0,1424.6 539.5,1402.2 540.0,1395.7 540.5,1403.4 541.0,1396.7 541.5,1399.6 542.0,1421.2 542.5,1406.3 543.0,1402.8 543.5,1404.9 544.0,1399.6 544.5,1410.1 545.0,1410.2 545.5,1395.6 546.0,1399.9 546.5,1428.0 547.0,1403.1 547.5,1396.0 548.0,1422.8 548.5,1397.3 549.0,1387.2 549.5,1405.2 550.0,1388.7 550.5,1392.2 551.0,1400.6 551.5,1395.4 552.0,1389.7 552.5,1391.6 553.0,1391.3 553.5,1411.1 554.0,1390.3 554.5,1391.7 555.0,1422.1 555.5,1392.0 556.0,1415.5 556.5,1413.4 557.0,1395.9 557.5,1384.6 558.0,1403.0 558.5,1405.8 559.0,1409.5 559.5,1398.4 560.0,1412.5 560.5,1414.2 561.0,1387.0 561.5,1413.5 562.0,1397.3 562.5,1389.4 563.0,1390.9 563.5,1416.3 564.0,1404.5 564.5,1375.5 565.0,1391.7 565.5,1388.6 566.0,1387.4 566.5,1383.5 567.0,1374.2 567.5,1396.9 568.0,1376.9 568.5,1381.0 569.0,1377.9 569.5,1375.8 570.0,1390.5 570.5,1385.0 571.0,1373.1 571.5,1369.7 572.0,1372.9 572.5,1388.0 573.0,1376.5 573.5,1376.8 574.0,1370.0 574.5,1369.6 575.0,1373.6 575.5,1352.6 576.0,1387.2 576.5,1358.3 577.0,1358.4 577.5,1378.2 578.0,1362.5 578.5,1358.4 579.0,1350.8 579.5,1340.2 580.0,1354.5 580.5,1365.1 581.0,1340.3 581.5,1363.2 582.0,1334.3 582.5,1335.8 583.0,1346.6 583.5,1338.2 584.0,1344.7 584.5,1327.4 585.0,1322.7 585.5,1313.0 586.0,1316.7 586.5,1315.9 587.0,1310.9 587.5,1325.3 588.0,1313.4 588.5,1299.2 589.0,1343.7 589.5,1303.9 590.0,1296.8 590.5,1319.1 591.0,1313.6 591.5,1284.3 592.0,1275.5 592.5,1272.5 593.0,1285.3 593.5,1260.7 594.0,1246.6 594.5,1240.6 595.0,1237.8 595.5,1208.8 596.0,1200.8 596.5,1187.2 597.0,1182.7 597.5,1173.2 598.0,1169.2 598.5,1170.0 599.0,1175.6 599.5,1178.0 600.0,1193.0 600.5,1197.7 601.0,1208.3 601.5,1222.8 602.0,1235.6 602.5,1254.0 603.0,1264.2 603.5,1266.7 604.0,1261.9 604.5,1283.4 605.0,1278.7 605.5,1297.8 606.0,1278.4 606.5,1267.8 607.0,1286.9 607.5,1319.4 608.0,1300.3 608.5,1294.1 609.0,1308.0 609.5,1304.3 610.0,1304.8 610.5,1295.4 611.0,1301.7 611.5,1304.1 612.0,1296.7 612.5,1293.2 613.0,1305.6 613.5,1316.5 614.0,1313.1 614.5,1311.7 615.0,1312.3 615.5,1335.9 616.0,1309.7 616.5,1319.0 617.0,1329.2 617.5,1305.5 618.0,1306.0 618.5,1310.0 619.0,1308.7 619.5,1294.0 620.0,1288.4 620.5,1283.5 621.0,1282.2 621.5,1285.6 622.0,1290.3 622.5,1291.7 623.0,1302.7 623.5,1297.7 624.0,1305.4 624.5,1316.5 625.0,1311.0 625.5,1334.0 626.0,1309.6 626.5,1327.4 627.0,1332.3 627.5,1344.6 628.0,1339.1 628.5,1331.5 629.0,1330.6 629.5,1329.9 630.0,1345.4 630.5,1326.2 631.0,1339.3 631.5,1332.8 632.0,1337.3 632.5,1332.7 633.0,1362.1 633.5,1329.0 634.0,1337.3 634.5,1336.8 635.0,1340.1 635.5,1337.3 636.0,1336.1 636.5,1342.2 637.0,1315.7 637.5,1328.4 638.0,1316.4 638.5,1329.4 639.0,1315.0 639.5,1316.1 640.0,1323.2 640.5,1340.0 641.0,1328.8 641.5,1324.1 642.0,1336.4 642.5,1309.1 643.0,1297.3 643.5,1310.0 644.0,1309.0 644.5,1322.6 645.0,1327.6 645.5,1293.6 646.0,1314.7 646.5,1301.7 647.0,1293.1 647.5,1288.8 648.0,1287.2 648.5,1289.8 649.0,1292.8 649.5,1298.8 650.0,1296.3 650.5,1312.1 651.0,1311.7 651.5,1320.6 652.0,1325.0 652.5,1315.0 653.0,1343.6 653.5,1321.3 654.0,1344.0 654.5,1321.3 655.0,1342.5 655.5,1332.7 656.0,1342.7 656.5,1338.4 657.0,1323.4 657.5,1331.6 658.0,1341.0 658.5,1346.5 659.0,1324.2 659.5,1316.9 660.0,1326.6 660.5,1331.0 661.0,1325.7 661.5,1322.6 662.0,1338.8 662.5,1338.6 663.0,1334.2 663.5,1314.9 664.0,1322.4 664.5,1317.9 665.0,1304.9 665.5,1326.4 666.0,1314.4 666.5,1306.5 667.0,1325.6 667.5,1316.3 668.0,1315.7 668.5,1317.8 669.0,1309.3 669.5,1286.3 670.0,1289.9 670.5,1300.3 671.0,1276.3 671.5,1276.4 672.0,1272.5 672.5,1274.1 673.0,1261.8 673.5,1246.6 674.0,1227.1 674.5,1222.0 675.0,1208.5 675.5,1197.1 676.0,1191.7 676.5,1186.8 676.8,1186.2 677.0,1186.6 677.5,1191.0 678.0,1196.7 678.5,1208.5 679.0,1211.8 679.5,1229.0 680.0,1235.3 680.5,1245.7 681.0,1248.8 681.5,1295.2 682.0,1279.7 682.5,1291.1 683.0,1307.8 683.5,1299.3 684.0,1311.1 684.5,1297.0 685.0,1314.4 685.5,1311.0 686.0,1323.0 686.5,1320.9 687.0,1307.9 687.5,1305.1 688.0,1313.6 688.5,1332.8 689.0,1329.3 689.5,1329.3 690.0,1306.4 690.5,1303.0 691.0,1318.8 691.5,1321.2 692.0,1318.5 692.5,1327.6 693.0,1321.1 693.5,1311.8 694.0,1313.5 694.5,1319.5 695.0,1316.5 695.5,1313.2 696.0,1316.1 696.5,1308.9 697.0,1308.2 697.5,1310.1 698.0,1313.3 698.5,1320.3 699.0,1326.0 699.5,1324.9 700.0,1333.5 700.5,1333.1 701.0,1319.1 701.5,1316.6 702.0,1368.2 702.5,1352.1 703.0,1343.3 703.5,1330.1 704.0,1336.0 704.5,1365.8 705.0,1329.3 705.5,1349.5 706.0,1364.4 706.5,1356.1 707.0,1364.4 707.5,1354.5 708.0,1385.9 708.5,1347.7 709.0,1345.3 709.5,1361.4 710.0,1376.3 710.5,1358.6 711.0,1372.5 711.5,1355.3 712.0,1349.9 712.5,1378.2 713.0,1380.8 713.5,1380.7 714.0,1358.3 714.5,1352.3 715.0,1352.6 715.5,1361.5 716.0,1371.1 716.5,1370.7 717.0,1352.1 717.5,1367.8 718.0,1366.1 718.5,1367.5 719.0,1366.6 719.5,1365.4 720.0,1374.9 720.5,1369.5 721.0,1371.2 721.5,1362.6 722.0,1374.1 722.5,1368.6 723.0,1351.3 723.5,1376.6 724.0,1368.7 724.5,1383.0 725.0,1370.6 725.5,1371.6 726.0,1375.6 726.5,1373.3 727.0,1369.9 727.5,1358.4 728.0,1397.7 728.5,1361.3 729.0,1372.8 729.5,1384.4 730.0,1381.4 730.5,1384.2 731.0,1387.1 731.5,1393.7 732.0,1381.9 732.5,1408.0 733.0,1369.4 733.5,1381.4 734.0,1375.4 734.5,1373.8 735.0,1382.2 735.5,1396.7 736.0,1372.2 736.5,1372.1 737.0,1387.3 737.5,1384.8 738.0,1402.0 738.5,1390.2 739.0,1380.0 739.5,1373.8 740.0,1378.9 740.5,1374.2 741.0,1363.1 741.5,1374.7 742.0,1372.4 742.5,1370.2 743.0,1366.7 743.5,1389.5 744.0,1375.3 744.5,1376.0 745.0,1356.8 745.5,1350.4 746.0,1353.7 746.5,1355.4 747.0,1345.2 747.5,1341.4 748.0,1348.0 748.5,1333.1 749.0,1313.6 749.5,1308.4 750.0,1296.0 750.5,1289.7 751.0,1268.4 751.5,1259.5 752.0,1248.5 752.5,1232.1 753.0,1219.7 753.5,1212.3 754.0,1209.2 754.5,1211.2 755.0,1218.6 755.5,1227.5 756.0,1236.3 756.5,1261.6 757.0,1268.6 757.5,1282.3 758.0,1292.9 758.5,1292.1 759.0,1305.7 759.5,1318.3 760.0,1333.2 760.5,1326.7 761.0,1309.2 761.5,1330.7 762.0,1339.3 762.5,1352.5 763.0,1346.6 763.5,1368.1 764.0,1356.8 764.5,1356.1 765.0,1351.2 765.5,1327.7 766.0,1350.5 766.5,1347.5 767.0,1335.3 767.5,1346.7 768.0,1343.8 768.5,1334.0 769.0,1335.4 769.5,1332.5 770.0,1333.1 770.5,1326.8 771.0,1325.7 771.5,1320.6 772.0,1320.2 772.5,1322.1 773.0,1326.6 773.5,1334.7 774.0,1337.2 774.5,1340.4 775.0,1345.3 775.5,1365.2 776.0,1340.3 776.5,1362.6 777.0,1340.3 777.5,1351.1 778.0,1358.8 778.5,1350.7 779.0,1362.2 779.5,1370.0 780.0,1351.6 780.5,1362.8 781.0,1361.4 781.5,1348.7 782.0,1365.6 782.5,1361.3 783.0,1386.3 783.5,1363.2 784.0,1393.3 784.5,1368.8 785.0,1398.9 785.5,1383.0 786.0,1383.3 786.5,1389.1 787.0,1391.7 787.5,1398.0 788.0,1402.3 788.5,1377.9 789.0,1370.0 789.5,1359.9 790.0,1378.0 790.5,1391.0 791.0,1386.4 791.5,1383.3 792.0,1378.8 792.5,1376.2 793.0,1379.4 793.5,1386.7 794.0,1366.1 794.5,1390.7 795.0,1368.5 795.5,1380.0 796.0,1375.5 796.5,1377.6 797.0,1371.3 797.5,1370.0 798.0,1377.9 798.5,1370.1 799.0,1408.3 799.5,1375.0 800.0,1372.0 800.5,1370.7 801.0,1363.5 801.5,1351.9 802.0,1351.6 802.5,1342.7 803.0,1335.3 803.3,1334.2 803.5,1334.7 804.0,1339.0 804.5,1349.1 805.0,1360.8 805.5,1370.3 806.0,1375.5 806.5,1368.3 807.0,1385.0 807.5,1371.2 808.0,1379.4 808.5,1383.7 809.0,1372.3 809.5,1363.5 810.0,1382.5 810.5,1365.0 811.0,1367.0 811.5,1365.1 812.0,1385.3 812.5,1373.5 813.0,1354.8 813.5,1383.9 814.0,1400.4 814.5,1396.9 815.0,1369.5 815.5,1375.5 816.0,1380.8 816.5,1385.5 817.0,1374.8 817.5,1364.5 818.0,1383.4 818.5,1381.5 819.0,1361.9 819.5,1370.3 820.0,1376.7 820.5,1373.1 821.0,1379.4 821.5,1382.6 822.0,1379.3 822.5,1371.4 823.0,1360.3 823.5,1379.8 824.0,1389.5 824.5,1396.7 825.0,1372.0 825.5,1372.0 826.0,1390.3 826.5,1390.4 827.0,1377.0 827.5,1381.8 828.0,1366.4 828.5,1380.7 829.0,1366.4 829.5,1372.7 830.0,1373.1 830.5,1370.3 831.0,1355.9 831.5,1367.5 832.0,1379.2 832.5,1374.1 833.0,1370.6 833.5,1378.8 834.0,1381.4 834.5,1382.8 835.0,1364.4 835.5,1371.1 836.0,1367.1 836.5,1361.5 837.0,1355.1 837.5,1366.8 838.0,1359.0 838.5,1392.5 839.0,1364.1 839.5,1362.1 840.0,1359.7 840.5,1385.5 841.0,1353.1 841.5,1359.3 842.0,1353.0 842.5,1358.0 843.0,1358.0 843.5,1371.2 844.0,1344.3 844.5,1356.0 845.0,1375.5 845.5,1350.3 846.0,1352.6 846.5,1345.5 847.0,1331.5 847.5,1351.1 848.0,1365.9 848.5,1346.5 849.0,1333.4 849.5,1352.6 850.0,1349.8 850.5,1360.7 851.0,1359.0 851.5,1344.8 852.0,1351.6 852.5,1330.1 853.0,1359.5 853.5,1347.5 854.0,1358.2 854.5,1357.5 855.0,1341.4 855.5,1342.2 856.0,1335.4 856.5,1324.5 857.0,1341.4 857.5,1344.2 858.0,1332.4 858.5,1350.6 859.0,1342.7 859.5,1346.9 860.0,1334.2 860.5,1325.1 861.0,1350.1 861.5,1347.8 862.0,1339.0 862.5,1335.8 863.0,1336.7 863.5,1337.6 864.0,1333.8 864.5,1319.9 865.0,1347.0 865.5,1323.4 866.0,1333.2 866.5,1332.8 867.0,1338.5 867.5,1320.6 868.0,1349.5 868.5,1342.4 869.0,1343.5 869.5,1349.3 870.0,1326.2 870.5,1311.8 871.0,1336.9 871.5,1348.7 872.0,1346.6 872.5,1327.3 873.0,1331.0 873.5,1335.2 874.0,1315.3 874.5,1325.3 875.0,1325.4 875.5,1350.5 876.0,1324.9 876.5,1349.9 877.0,1330.4 877.5,1314.5 878.0,1355.9 878.5,1318.9 879.0,1334.1 879.5,1346.3 880.0,1319.1 880.5,1311.3 881.0,1333.1 881.5,1318.9 882.0,1304.6 882.5,1302.9 883.0,1305.3 883.5,1316.0 884.0,1297.3 884.5,1301.3 885.0,1304.4 885.5,1292.1 886.0,1283.8 886.5,1273.3 887.0,1260.4 887.5,1259.3 888.0,1256.8 888.5,1257.3 889.0,1258.5 889.5,1259.7 890.0,1264.4 890.5,1274.6 891.0,1271.5 891.5,1278.1 892.0,1283.4 892.5,1299.9 893.0,1292.3 893.5,1295.8 894.0,1315.1 894.5,1297.4 895.0,1308.5 895.5,1292.4 896.0,1306.2 896.5,1303.7 897.0,1304.4 897.5,1297.9 898.0,1292.5 898.5,1298.5 899.0,1297.0 899.5,1314.2 900.0,1312.8 900.5,1290.9 901.0,1309.2 901.5,1297.0 902.0,1306.4 902.5,1295.9 903.0,1286.3 903.5,1310.6 904.0,1302.2 904.5,1284.1 905.0,1276.1 905.5,1285.3 906.0,1276.7 906.5,1280.1 907.0,1285.5 907.5,1288.5 908.0,1267.3 908.5,1272.9 909.0,1264.3 909.5,1255.1 910.0,1252.6 910.5,1252.6 911.0,1254.4 911.5,1262.0 912.0,1267.9 912.5,1272.7 913.0,1287.7 913.5,1272.5 914.0,1287.5 914.5,1288.2 915.0,1315.5 915.5,1305.7 916.0,1281.5 916.5,1322.1 917.0,1300.0 917.5,1319.7 918.0,1307.8 918.5,1316.6 919.0,1322.8 919.5,1318.5 920.0,1308.5 920.5,1338.0 921.0,1329.1 921.5,1327.4 922.0,1339.6 922.5,1329.4 923.0,1360.8 923.5,1343.5 924.0,1348.4 924.5,1351.4 925.0,1342.1 925.5,1342.9 926.0,1359.3 926.5,1364.1 927.0,1379.6 927.5,1371.6 928.0,1356.8 928.5,1373.1 929.0,1376.7 929.5,1378.8 930.0,1370.5 930.5,1355.3 931.0,1380.6 931.5,1359.6 932.0,1373.2 932.5,1352.0 933.0,1375.5 933.5,1358.9 934.0,1379.4 934.5,1387.8 935.0,1380.4 935.5,1355.4 936.0,1357.4 936.5,1356.4 937.0,1370.8 937.5,1365.2 938.0,1361.2 938.5,1361.3 939.0,1362.8 939.5,1361.7 940.0,1372.4 940.5,1348.7 941.0,1349.3 941.5,1327.9 942.0,1329.9 942.5,1332.3 943.0,1325.7 943.5,1331.9 944.0,1332.1 944.5,1320.6 945.0,1317.4 945.5,1314.8 945.8,1313.7 946.0,1314.0 946.5,1315.0 947.0,1319.2 947.5,1322.4 948.0,1326.3 948.5,1333.8 949.0,1329.3 949.5,1332.7 950.0,1354.0 950.5,1334.0 951.0,1345.5 951.5,1337.4 952.0,1333.5 952.5,1334.3 953.0,1331.8 953.5,1339.9 954.0,1334.9 954.5,1337.1 955.0,1356.4 955.5,1340.8 956.0,1356.5 956.5,1346.2 957.0,1354.1 957.5,1338.6 958.0,1346.3 958.5,1374.5 959.0,1355.7 959.5,1358.3 960.0,1349.3 960.5,1357.4 961.0,1337.1 961.5,1340.3 962.0,1353.4 962.5,1358.6 963.0,1345.4 963.5,1348.2 964.0,1347.4 964.5,1349.8 965.0,1341.6 965.5,1340.4 966.0,1353.1 966.5,1339.3 967.0,1346.8 967.5,1350.4 968.0,1347.8 968.5,1360.7 969.0,1354.8 969.5,1358.9 970.0,1351.7 970.5,1354.9 971.0,1368.5 971.5,1367.7 972.0,1360.3 972.5,1369.6 973.0,1368.5 973.5,1369.2 974.0,1387.6 974.5,1365.8 975.0,1375.3 975.5,1376.3 976.0,1370.1 976.5,1362.6 977.0,1381.5 977.5,1376.9 978.0,1374.9 978.5,1375.1 979.0,1375.5 979.5,1368.0 980.0,1379.6 980.5,1361.0 981.0,1376.7 981.5,1364.4 982.0,1374.6 982.5,1386.5 983.0,1376.1 983.5,1374.5 984.0,1385.0 984.5,1377.0 985.0,1376.2 985.5,1376.7 986.0,1398.3 986.5,1388.5 987.0,1386.7 987.5,1371.3 988.0,1389.1 988.5,1371.1 989.0,1388.1 989.5,1373.4 990.0,1406.4 990.5,1368.5 991.0,1397.0 991.5,1391.6 992.0,1366.7 992.5,1379.5 993.0,1398.2 993.5,1394.2 994.0,1366.3 994.5,1375.7 995.0,1369.8 995.5,1370.7 996.0,1373.6 996.5,1400.3 997.0,1379.8 997.5,1376.2 998.0,1375.0 998.5,1385.2 999.0,1385.2 999.5,1369.2 1000.0,1393.9 1000.5,1367.4 1001.0,1374.0 1001.5,1381.3 1002.0,1395.9 1002.5,1372.9 1003.0,1378.8 1003.5,1391.2 1004.0,1383.7 1004.5,1390.0 1005.0,1389.4 1005.5,1380.7 1006.0,1385.5 1006.5,1389.3 1007.0,1378.9 1007.5,1398.1 1008.0,1363.3 1008.5,1372.7 1009.0,1397.5 1009.5,1386.0 1010.0,1376.2 1010.5,1386.2 1011.0,1394.8 1011.5,1378.0 1012.0,1391.8 1012.5,1382.5 1013.0,1382.9 1013.5,1383.7 1014.0,1397.4 1014.5,1375.6 1015.0,1382.3 1015.5,1393.3 1016.0,1376.0 1016.5,1373.3 1017.0,1393.3 1017.5,1387.3 1018.0,1386.4 1018.5,1389.4 1019.0,1380.2 1019.5,1416.9 1020.0,1380.7 1020.5,1385.5 1021.0,1377.6 1021.5,1386.3 1022.0,1407.5 1022.5,1390.6 1023.0,1397.4 1023.5,1387.0 1024.0,1412.1 1024.5,1393.4 1025.0,1381.7 1025.5,1401.1 1026.0,1389.7 1026.5,1399.9 1027.0,1394.9 1027.5,1396.7 1028.0,1395.6 1028.5,1387.2 1029.0,1382.6 1029.5,1406.3 1030.0,1394.6 1030.5,1399.1 1031.0,1392.6 1031.5,1380.0 1032.0,1386.5 1032.5,1413.0 1033.0,1391.1 1033.5,1394.7 1034.0,1386.0 1034.5,1394.0 1035.0,1395.5 1035.5,1397.0 1036.0,1398.4 1036.5,1394.0 1037.0,1394.7 1037.5,1399.5 1038.0,1403.2 1038.5,1398.8 1039.0,1419.7 1039.5,1402.4 1040.0,1402.1 1040.5,1395.4 1041.0,1412.3 1041.5,1392.8 1042.0,1388.2 1042.5,1393.7 1043.0,1408.6 1043.5,1392.8 1044.0,1416.5 1044.5,1401.8 1045.0,1389.6 1045.5,1400.0 1046.0,1421.7 1046.5,1394.8 1047.0,1391.1 1047.5,1407.2 1048.0,1416.1 1048.5,1412.8 1049.0,1398.9 1049.5,1403.4 1050.0,1404.9 1050.5,1414.3 1051.0,1425.1 1051.5,1400.3 1052.0,1415.4 1052.5,1398.2 1053.0,1407.2 1053.5,1393.2 1054.0,1394.4 1054.5,1404.8 1055.0,1393.1 1055.5,1409.8 1056.0,1395.6 1056.5,1400.5 1057.0,1399.1 1057.5,1397.0 1058.0,1400.8 1058.5,1411.2 1059.0,1426.8 1059.5,1390.4 1060.0,1403.3 1060.5,1399.1 1061.0,1393.4 1061.5,1403.8 1062.0,1394.0 1062.5,1400.4 1063.0,1414.2 1063.5,1384.1 1064.0,1401.5 1064.5,1401.8 1065.0,1386.7 1065.5,1394.9 1066.0,1387.0 1066.5,1374.1 1067.0,1375.5 1067.5,1353.3 1068.0,1350.2 1068.5,1340.6 1069.0,1336.2 1069.3,1335.7 1069.5,1336.2 1070.0,1340.4 1070.5,1350.5 1071.0,1353.7 1071.5,1368.1 1072.0,1376.3 1072.5,1402.2 1073.0,1386.6 1073.5,1411.3 1074.0,1390.7 1074.5,1410.8 1075.0,1408.2 1075.5,1414.6 1076.0,1406.2 1076.5,1397.2 1077.0,1401.0 1077.5,1427.7 1078.0,1416.2 1078.5,1407.7 1079.0,1424.4 1079.5,1409.4 1080.0,1409.9 1080.5,1406.5 1081.0,1428.9 1081.5,1437.7 1082.0,1409.5 1082.5,1420.3 1083.0,1428.1 1083.5,1440.7 1084.0,1400.5 1084.5,1419.8 1085.0,1425.4 1085.5,1407.3 1086.0,1423.1 1086.5,1420.9 1087.0,1426.6 1087.5,1414.7 1088.0,1423.5 1088.5,1414.6 1089.0,1425.6 1089.5,1420.8 1090.0,1416.5 1090.5,1408.5 1091.0,1436.9 1091.5,1431.1 1092.0,1428.7 1092.5,1414.4 1093.0,1416.9 1093.5,1437.2 1094.0,1427.3 1094.5,1413.1 1095.0,1420.1 1095.5,1421.0 1096.0,1418.3 1096.5,1412.7 1097.0,1433.1 1097.5,1425.8 1098.0,1418.1 1098.5,1407.4 1099.0,1414.8 1099.5,1419.0 1100.0,1427.9 1100.5,1416.0 1101.0,1430.2 1101.5,1419.8 1102.0,1412.8 1102.5,1400.8 1103.0,1409.5 1103.5,1407.0 1104.0,1417.2 1104.5,1421.6 1105.0,1432.8 1105.5,1418.2 1106.0,1409.5 1106.5,1442.8 1107.0,1421.2 1107.5,1416.0 1108.0,1415.8 1108.5,1407.3 1109.0,1423.6 1109.5,1420.3 1110.0,1432.4 1110.5,1426.4 1111.0,1422.8 1111.5,1425.3 1112.0,1408.5 1112.5,1405.1 1113.0,1405.1 1113.5,1394.3 1114.0,1397.5 1114.5,1392.6 1115.0,1392.1 1115.5,1385.7 1116.0,1382.2 1116.5,1381.8 1117.0,1383.3 1117.5,1382.5 1118.0,1386.3 1118.5,1392.1 1119.0,1388.5 1119.5,1395.4 1120.0,1401.9 1120.5,1394.3 1121.0,1408.4 1121.5,1411.0 1122.0,1398.7 1122.5,1409.1 1123.0,1420.5 1123.5,1408.6 1124.0,1414.5 1124.5,1416.9 1125.0,1408.8 1125.5,1420.6 1126.0,1414.4 1126.5,1403.2 1127.0,1415.8 1127.5,1419.2 1128.0,1418.5 1128.5,1405.5 1129.0,1414.8 1129.5,1424.0 1130.0,1412.2 1130.5,1421.8 1131.0,1422.9 1131.5,1409.3 1132.0,1416.6 1132.5,1408.2 1133.0,1421.6 1133.5,1410.6 1134.0,1407.6 1134.5,1411.9 1135.0,1412.0 1135.5,1416.8 1136.0,1418.1 1136.5,1405.3 1137.0,1409.5 1137.5,1418.3 1138.0,1420.0 1138.5,1416.4 1139.0,1440.5 1139.5,1427.7 1140.0,1416.3 1140.5,1424.6 1141.0,1431.1 1141.5,1421.7 1142.0,1405.7 1142.5,1419.8 1143.0,1419.7 1143.5,1441.0 1144.0,1406.6 1144.5,1435.9 1145.0,1419.6 1145.5,1430.5 1146.0,1419.4 1146.5,1423.7 1147.0,1433.7 1147.5,1423.6 1148.0,1433.7 1148.5,1423.0 1149.0,1420.5 1149.5,1421.7 1150.0,1419.4 1150.5,1422.0 1151.0,1436.2 1151.5,1414.0 1152.0,1410.2 1152.5,1421.8 1153.0,1438.5 1153.5,1431.9 1154.0,1434.3 1154.5,1433.4 1155.0,1415.4 1155.5,1421.5 1156.0,1402.8 1156.5,1415.4 1157.0,1425.4 1157.5,1407.9 1158.0,1404.0 1158.5,1409.0 1159.0,1420.1 1159.5,1429.0 1160.0,1440.4 1160.5,1430.7 1161.0,1405.2 1161.5,1399.0 1162.0,1416.4 1162.5,1424.7 1163.0,1402.0 1163.5,1409.0 1164.0,1408.6 1164.5,1411.2 1165.0,1408.3 1165.5,1413.4 1166.0,1417.1 1166.5,1405.7 1167.0,1410.2 1167.5,1419.7 1168.0,1391.0 1168.5,1388.2 1169.0,1396.3 1169.5,1402.3 1170.0,1386.2 1170.5,1386.5 1171.0,1378.4 1171.5,1377.5 1172.0,1375.4 1172.2,1375.2 1172.5,1375.4 1173.0,1376.7 1173.5,1379.3 1174.0,1387.1 1174.5,1390.4 1175.0,1383.3 1175.5,1397.0 1176.0,1380.9 1176.5,1403.7 1177.0,1418.4 1177.5,1403.4 1178.0,1404.7 1178.5,1401.7 1179.0,1410.1 1179.5,1399.5 1180.0,1410.0 1180.5,1402.0 1181.0,1401.3 1181.5,1406.0 1182.0,1404.5 1182.5,1392.9 1183.0,1425.2 1183.5,1406.7 1184.0,1393.4 1184.5,1415.7 1185.0,1405.2 1185.5,1407.8 1186.0,1412.9 1186.5,1400.0 1187.0,1389.2 1187.5,1406.2 1188.0,1409.8 1188.5,1417.3 1189.0,1402.6 1189.5,1406.3 1190.0,1412.6 1190.5,1406.6 1191.0,1407.4 1191.5,1412.1 1192.0,1402.9 1192.5,1425.2 1193.0,1403.9 1193.5,1411.1 1194.0,1408.5 1194.5,1406.1 1195.0,1416.5 1195.5,1421.1 1196.0,1425.1 1196.5,1416.2 1197.0,1406.6 1197.5,1417.3 1198.0,1398.3 1198.5,1408.0 1199.0,1411.6 1199.5,1411.0 1200.0,1396.6 1200.5,1393.2 1201.0,1417.9 1201.5,1397.3 1202.0,1388.3 1202.5,1389.4 1203.0,1396.2 1203.5,1404.6 1204.0,1391.6 1204.5,1398.5 1205.0,1387.5 1205.5,1385.3 1206.0,1383.1 1206.5,1375.7 1207.0,1374.1 1207.6,1372.2 1208.0,1372.4 1208.5,1374.8 1209.0,1374.0 1209.5,1378.5 1210.0,1376.5 1210.5,1381.7 1211.0,1380.7 1211.5,1395.1 1212.0,1387.4 1212.5,1388.3 1213.0,1403.4 1213.5,1372.4 1214.0,1381.7 1214.5,1373.1 1215.0,1389.6 1215.5,1393.7 1216.0,1395.6 1216.5,1392.0 1217.0,1383.4 1217.5,1404.7 1218.0,1390.9 1218.5,1385.5 1219.0,1379.2 1219.5,1388.1 1220.0,1380.7 1220.5,1379.4 1221.0,1380.0 1221.5,1377.7 1222.0,1375.5 1222.6,1375.2 1223.0,1376.3 1223.5,1377.8 1224.0,1382.8 1224.5,1385.8 1225.0,1388.9 1225.5,1389.2 1226.0,1394.6 1226.5,1393.2 1227.0,1388.5 1227.5,1407.7 1228.0,1396.4 1228.5,1403.2 1229.0,1412.9 1229.5,1408.1 1230.0,1430.8 1230.5,1401.8 1231.0,1407.4 1231.5,1414.5 1232.0,1427.3 1232.5,1413.7 1233.0,1406.4 1233.5,1426.1 1234.0,1410.1 1234.5,1415.0 1235.0,1424.4 1235.5,1412.5 1236.0,1414.1 1236.5,1421.6 1237.0,1416.2 1237.5,1420.3 1238.0,1411.9 1238.5,1417.4 1239.0,1411.3 1239.5,1408.5 1240.0,1434.9 1240.5,1424.7 1241.0,1430.1 1241.5,1417.1 1242.0,1424.3 1242.5,1424.5 1243.0,1417.9 1243.5,1433.1 1244.0,1424.8 1244.5,1429.3 1245.0,1422.2 1245.5,1441.8 1246.0,1440.9 1246.5,1438.8 1247.0,1430.6 1247.5,1432.9 1248.0,1447.0 1248.5,1434.3 1249.0,1438.3 1249.5,1437.0 1250.0,1428.4 1250.5,1448.8 1251.0,1422.5 1251.5,1436.9 1252.0,1434.2 1252.5,1424.2 1253.0,1437.2 1253.5,1438.6 1254.0,1434.2 1254.5,1428.3 1255.0,1437.3 1255.5,1442.9 1256.0,1434.9 1256.5,1448.0 1257.0,1440.2 1257.5,1439.2 1258.0,1444.6 1258.5,1428.0 1259.0,1428.8 1259.5,1436.7 1260.0,1436.7 1260.5,1445.5 1261.0,1442.3 1261.5,1433.8 1262.0,1434.2 1262.5,1430.6 1263.0,1430.1 1263.5,1429.7 1264.0,1440.7 1264.5,1429.8 1265.0,1430.6 1265.5,1434.4 1266.0,1429.8 1266.5,1431.7 1267.0,1419.3 1267.5,1436.6 1268.0,1431.3 1268.5,1435.0 1269.0,1436.7 1269.5,1421.7 1270.0,1454.6 1270.5,1435.4 1271.0,1435.7 1271.5,1422.8 1272.0,1439.9 1272.5,1438.2 1273.0,1432.2 1273.5,1437.0 1274.0,1446.2 1274.5,1432.6 1275.0,1429.0 1275.5,1446.9 1276.0,1437.6 1276.5,1433.8 1277.0,1455.2 1277.5,1436.8 1278.0,1434.0 1278.5,1437.9 1279.0,1432.8 1279.5,1437.7 1280.0,1437.3 1280.5,1431.6 1281.0,1434.2 1281.5,1439.2 1282.0,1440.0 1282.5,1442.0 1283.0,1444.0 1283.5,1439.5 1284.0,1442.1 1284.5,1435.1 1285.0,1436.1 1285.5,1447.4 1286.0,1425.7 1286.5,1442.1 1287.0,1459.1 1287.5,1427.2 1288.0,1452.7 1288.5,1428.3 1289.0,1443.0 1289.5,1454.3 1290.0,1453.2 1290.5,1434.0 1291.0,1431.3 1291.5,1430.3 1292.0,1445.6 1292.5,1436.5 1293.0,1438.9 1293.5,1440.9 1294.0,1442.0 1294.5,1442.9 1295.0,1439.1 1295.5,1427.4 1296.0,1450.3 1296.5,1421.6 1297.0,1447.9 1297.5,1432.9 1298.0,1435.2 1298.5,1432.9 1299.0,1433.7 1299.5,1435.7 1300.0,1433.8 1300.5,1428.4 1301.0,1442.8 1301.5,1431.3 1302.0,1446.7 1302.5,1433.7 1303.0,1430.1 1303.5,1438.4 1304.0,1442.2 1304.5,1428.4 1305.0,1432.4 1305.5,1446.7 1306.0,1427.7 1306.5,1428.6 1307.0,1435.5 1307.5,1426.2 1308.0,1418.4 1308.5,1423.2 1309.0,1437.1 1309.5,1439.5 1310.0,1438.9 1310.5,1437.0 1311.0,1425.7 1311.5,1439.5 1312.0,1443.6 1312.5,1428.9 1313.0,1441.6 1313.5,1430.9 1314.0,1434.9 1314.5,1436.4 1315.0,1423.6 1315.5,1445.9 1316.0,1427.5 1316.5,1432.2 1317.0,1429.6 1317.5,1436.7 1318.0,1436.4 1318.5,1432.7 1319.0,1444.7 1319.5,1434.7 1320.0,1429.5 1320.5,1417.1 1321.0,1431.3 1321.5,1431.8 1322.0,1428.7 1322.5,1429.3 1323.0,1440.5 1323.5,1445.1 1324.0,1453.1 1324.5,1447.0 1325.0,1433.1 1325.5,1440.4 1326.0,1430.1 1326.5,1445.8 1327.0,1443.1 1327.5,1436.6 1328.0,1440.4 1328.5,1440.0 1329.0,1438.1 1329.5,1454.4 1330.0,1464.0 1330.5,1451.0 1331.0,1453.6 1331.5,1446.2 1332.0,1442.9 1332.5,1464.9 1333.0,1443.6 1333.5,1449.9 1334.0,1445.9 1334.5,1452.3 1335.0,1447.1 1335.5,1453.0 1336.0,1440.0 1336.5,1447.7 1337.0,1460.8 1337.5,1441.8 1338.0,1443.7 1338.5,1459.6 1339.0,1450.8 1339.5,1456.3 1340.0,1432.4 1340.5,1447.6 1341.0,1437.9 1341.5,1436.9 1342.0,1449.1 1342.5,1455.6 1343.0,1435.5 1343.5,1437.7 1344.0,1440.8 1344.5,1443.5 1345.0,1435.8 1345.5,1463.9 1346.0,1449.1 1346.5,1441.4 1347.0,1440.3 1347.5,1463.8 1348.0,1463.0 1348.5,1440.1 1349.0,1446.2 1349.5,1454.0 1350.0,1435.3 1350.5,1439.0 1351.0,1454.5 1351.5,1438.1 1352.0,1439.6 1352.5,1433.7 1353.0,1437.2 1353.5,1448.0 1354.0,1436.5 1354.5,1433.3 1355.0,1437.4 1355.5,1456.8 1356.0,1442.6 1356.5,1437.3 1357.0,1442.0 1357.5,1444.3 1358.0,1441.3 1358.5,1428.6 1359.0,1442.5 1359.5,1438.3 1360.0,1446.9 1360.5,1430.8 1361.0,1448.4 1361.5,1436.0 1362.0,1428.2 1362.5,1450.6 1363.0,1435.6 1363.5,1442.4 1364.0,1438.3 1364.5,1449.1 1365.0,1449.5 1365.5,1449.8 1366.0,1446.6 1366.5,1430.4 1367.0,1430.2 1367.5,1442.9 1368.0,1435.3 1368.5,1445.7 1369.0,1443.3 1369.5,1433.1 1370.0,1435.6 1370.5,1435.2 1371.0,1436.8 1371.5,1441.2 1372.0,1448.5 1372.5,1454.3 1373.0,1436.4 1373.5,1438.9 1374.0,1456.1 1374.5,1450.1 1375.0,1444.2 1375.5,1427.2 1376.0,1435.5 1376.5,1443.0 1377.0,1437.7 1377.5,1458.7 1378.0,1441.8 1378.5,1443.3 1379.0,1433.7 1379.5,1433.8 1380.0,1436.0 1380.5,1436.1 1381.0,1438.4 1381.5,1443.0 1382.0,1441.7 1382.5,1448.3 1383.0,1430.9 1383.5,1441.2 1384.0,1441.4 1384.5,1453.2 1385.0,1437.8 1385.5,1442.0 1386.0,1434.0 1386.5,1442.9 1387.0,1442.7 1387.5,1435.2 1388.0,1436.5 1388.5,1439.1 1389.0,1444.4 1389.5,1432.1 1390.0,1447.2 1390.5,1437.4 1391.0,1456.2 1391.5,1452.4 1392.0,1437.1 1392.5,1435.7 1393.0,1460.6 1393.5,1445.3 1394.0,1444.9 1394.5,1437.3 1395.0,1439.2 1395.5,1447.1 1396.0,1445.6 1396.5,1435.0 1397.0,1451.2 1397.5,1443.1 1398.0,1434.4 1398.5,1449.2 1399.0,1439.4 1399.5,1447.4 1400.0,1437.1 1400.5,1443.8 1401.0,1430.4 1401.5,1443.9 1402.0,1431.0 1402.5,1442.0 1403.0,1425.6 1403.5,1440.1 1404.0,1446.8 1404.5,1444.7 1405.0,1450.8 1405.5,1433.5 1406.0,1453.9 1406.5,1454.1 1407.0,1432.4 1407.5,1434.8 1408.0,1436.1 1408.5,1439.4 1409.0,1441.0 1409.5,1424.3 1410.0,1444.4 1410.5,1437.5 1411.0,1432.6 1411.5,1447.1 1412.0,1436.3 1412.5,1448.0 1413.0,1442.4 1413.5,1435.5 1414.0,1447.5 1414.5,1444.0 1415.0,1433.6 1415.5,1426.4 1416.0,1433.0 1416.5,1441.6 1417.0,1434.6 1417.5,1451.3 1418.0,1438.1 1418.5,1437.4 1419.0,1439.1 1419.5,1429.9 1420.0,1434.5 1420.5,1430.9 1421.0,1420.2 1421.5,1423.6 1422.0,1441.0 1422.5,1431.5 1423.0,1433.3 1423.5,1424.6 1424.0,1429.9 1424.5,1440.2 1425.0,1433.9 1425.5,1429.6 1426.0,1445.9 1426.5,1431.9 1427.0,1429.8 1427.5,1441.6 1428.0,1420.5 1428.5,1435.9 1429.0,1423.8 1429.5,1425.6 1430.0,1426.0 1430.5,1431.1 1431.0,1430.6 1431.5,1432.0 1432.0,1430.9 1432.5,1441.0 1433.0,1443.2 1433.5,1434.4 1434.0,1434.5 1434.5,1425.2 1435.0,1420.4 1435.5,1432.1 1436.0,1427.0 1436.5,1433.8 1437.0,1414.6 1437.5,1446.5 1438.0,1417.5 1438.5,1425.5 1439.0,1433.5 1439.5,1415.9 1440.0,1420.9 1440.5,1411.4 1441.0,1414.8 1441.5,1411.3 1442.0,1424.1 1442.5,1425.5 1443.0,1420.7 1443.5,1433.4 1444.0,1434.2 1444.5,1421.8 1445.0,1420.2 1445.5,1419.6 1446.0,1418.1 1446.5,1432.0 1447.0,1422.5 1447.5,1418.0 1448.0,1418.4 1448.5,1424.2 1449.0,1416.7 1449.5,1421.5 1450.0,1418.2 1450.5,1429.9 1451.0,1427.8 1451.5,1408.5 1452.0,1416.0 1452.5,1422.7 1453.0,1413.3 1453.5,1422.8 1454.0,1418.2 1454.5,1420.0 1455.0,1414.0 1455.5,1416.6 1456.0,1418.1 1456.5,1403.9 1457.0,1406.9 1457.5,1405.8 1458.0,1426.3 1458.5,1414.0 1459.0,1414.2 1459.5,1412.1 1460.0,1407.0 1460.5,1405.3 1461.0,1416.9 1461.5,1406.9 1462.0,1422.6 1462.5,1410.3 1463.0,1409.1 1463.5,1406.6 1464.0,1407.3 1464.5,1407.7 1465.0,1420.3 1465.5,1427.1 1466.0,1399.4 1466.5,1408.6 1467.0,1412.3 1467.5,1400.4 1468.0,1401.9 1468.5,1402.8 1469.0,1390.6 1469.5,1411.0 1470.0,1404.9 1470.5,1404.5 1471.0,1405.7 1471.5,1407.0 1472.0,1424.7 1472.5,1406.2 1473.0,1411.7 1473.5,1401.0 1474.0,1407.0 1474.5,1401.7 1475.0,1402.3 1475.5,1397.2 1476.0,1397.1 1476.5,1405.3 1477.0,1406.9 1477.5,1403.3 1478.0,1393.7 1478.5,1398.9 1479.0,1379.7 1479.5,1399.4 1480.0,1388.9 1480.5,1387.9 1481.0,1389.0 1481.5,1378.2 1482.0,1378.4 1482.5,1373.6 1483.0,1372.5 1483.2,1372.5 1483.5,1372.9 1484.0,1374.9 1484.5,1380.7 1485.0,1378.3 1485.5,1381.0 1486.0,1385.0 1486.5,1391.8 1487.0,1411.2 1487.5,1390.7 1488.0,1383.6 1488.5,1393.6 1489.0,1389.3 1489.5,1396.7 1490.0,1401.4 1490.5,1396.0 1491.0,1398.5 1491.5,1391.7 1492.0,1405.4 1492.5,1399.7 1493.0,1414.1 1493.5,1414.2 1494.0,1400.1 1494.5,1403.6 1495.0,1406.8 1495.5,1413.1 1496.0,1396.5 1496.5,1406.7 1497.0,1423.6 1497.5,1407.2 1498.0,1409.9 1498.5,1408.3 1499.0,1401.0 1499.5,1416.9 1500.0,1411.2 1500.5,1410.5 1501.0,1415.6 1501.5,1416.3 1502.0,1397.9 1502.5,1414.1 1503.0,1406.5 1503.5,1411.8 1504.0,1406.2 1504.5,1405.5 1505.0,1419.4 1505.5,1411.5 1506.0,1410.0 1506.5,1410.3 1507.0,1413.2 1507.5,1412.7 1508.0,1398.5 1508.5,1408.1 1509.0,1412.4 1509.5,1420.7 1510.0,1426.4 1510.5,1409.2 1511.0,1432.1 1511.5,1416.7 1512.0,1420.5 1512.5,1413.3 1513.0,1413.2 1513.5,1429.8 1514.0,1416.3 1514.5,1417.4 1515.0,1428.5 1515.5,1433.7 1516.0,1409.8 1516.5,1418.2 1517.0,1419.8 1517.5,1435.7 1518.0,1440.2 1518.5,1420.3 1519.0,1424.2 1519.5,1428.7 1520.0,1431.4 1520.5,1419.6 1521.0,1429.3 1521.5,1417.7 1522.0,1406.9 1522.5,1413.9 1523.0,1424.7 1523.5,1429.8 1524.0,1409.2 1524.5,1412.2 1525.0,1423.5 1525.5,1408.3 1526.0,1428.9 1526.5,1433.2 1527.0,1408.9 1527.5,1431.3 1528.0,1423.5 1528.5,1437.3 1529.0,1427.7 1529.5,1423.1 1530.0,1425.5 1530.5,1432.1 1531.0,1425.2 1531.5,1423.5 1532.0,1413.5 1532.5,1426.4 1533.0,1422.1 1533.5,1437.1 1534.0,1420.9 1534.5,1419.8 1535.0,1415.9 1535.5,1425.8 1536.0,1417.6 1536.5,1414.1 1537.0,1432.1 1537.5,1433.2 1538.0,1414.4 1538.5,1410.5 1539.0,1426.4 1539.5,1411.0 1540.0,1435.3 1540.5,1414.6 1541.0,1423.6 1541.5,1406.7 1542.0,1414.4 1542.5,1423.7 1543.0,1417.8 1543.5,1410.0 1544.0,1432.4 1544.5,1419.0 1545.0,1410.4 1545.5,1407.4 1546.0,1408.5 1546.5,1419.2 1547.0,1403.2 1547.5,1405.0 1548.0,1399.4 1548.5,1401.2 1549.0,1395.2 1549.5,1393.3 1549.7,1392.9 1550.0,1393.5 1550.5,1395.3 1551.0,1400.8 1551.5,1406.2 1552.0,1400.3 1552.5,1412.4 1553.0,1426.5 1553.5,1408.7 1554.0,1417.2 1554.5,1404.1 1555.0,1417.2 1555.5,1409.8 1556.0,1420.8 1556.5,1414.3 1557.0,1407.4 1557.5,1424.8 1558.0,1414.0 1558.5,1409.3 1559.0,1416.8 1559.5,1410.1 1560.0,1420.1 1560.5,1416.3 1561.0,1414.4 1561.5,1423.0 1562.0,1409.6 1562.5,1426.8 1563.0,1406.3 1563.5,1433.4 1564.0,1421.8 1564.5,1418.9 1565.0,1416.6 1565.5,1426.8 1566.0,1421.4 1566.5,1422.0 1567.0,1433.0 1567.5,1421.7 1568.0,1423.6 1568.5,1429.8 1569.0,1436.0 1569.5,1426.3 1570.0,1429.6 1570.5,1429.3 1571.0,1436.0 1571.5,1443.1 1572.0,1424.8 1572.5,1430.5 1573.0,1431.9 1573.5,1438.0 1574.0,1446.5 1574.5,1434.1 1575.0,1436.7 1575.5,1445.2 1576.0,1428.1 1576.5,1431.6 1577.0,1433.6 1577.5,1436.7 1578.0,1438.7 1578.5,1433.1 1579.0,1451.7 1579.5,1431.9 1580.0,1435.0 1580.5,1445.9 1581.0,1443.2 1581.5,1436.4 1582.0,1439.8 1582.5,1443.6 1583.0,1436.4 1583.5,1442.1 1584.0,1430.5 1584.5,1437.2 1585.0,1426.2 1585.5,1430.8 1586.0,1429.2 1586.5,1443.5 1587.0,1429.8 1587.5,1429.0 1588.0,1419.6 1588.5,1414.9 1589.0,1410.3 1589.4,1409.0 1590.0,1412.5 1590.5,1415.6 1591.0,1426.8 1591.5,1441.8 1592.0,1430.2 1592.5,1436.8 1593.0,1428.4 1593.5,1437.9 1594.0,1427.5 1594.5,1443.8 1595.0,1435.2 1595.5,1426.9 1596.0,1430.3 1596.5,1428.5 1597.0,1436.6 1597.5,1446.0 1598.0,1435.9 1598.5,1431.1 1599.0,1433.2 1599.5,1439.5 1600.0,1423.2 1600.5,1443.5 1601.0,1441.9 1601.5,1423.2 1602.0,1448.6 1602.5,1428.1 1603.0,1436.9 1603.5,1448.5 1604.0,1428.1 1604.5,1426.7 1605.0,1431.1 1605.5,1431.3 1606.0,1437.1 1606.5,1434.6 1607.0,1434.7 1607.5,1434.7 1608.0,1436.5 1608.5,1432.3 1609.0,1440.5 1609.5,1437.6 1610.0,1431.1 1610.5,1453.2 1611.0,1429.4 1611.5,1443.6 1612.0,1432.5 1612.5,1440.3 1613.0,1441.6 1613.5,1444.4 1614.0,1449.2 1614.5,1431.5 1615.0,1456.6 1615.5,1440.2 1616.0,1431.5 1616.5,1428.1 1617.0,1456.4 1617.5,1450.8 1618.0,1436.5 1618.5,1443.2 1619.0,1448.0 1619.5,1437.6 1620.0,1433.9 1620.5,1436.5 1621.0,1444.1 1621.5,1437.1 1622.0,1429.1 1622.5,1443.5 1623.0,1426.1 1623.5,1432.2 1624.0,1447.8 1624.5,1439.2 1625.0,1439.1 1625.5,1438.0 1626.0,1446.1 1626.5,1437.1 1627.0,1425.5 1627.5,1440.2 1628.0,1423.1 1628.5,1425.7 1629.0,1452.5 1629.5,1448.0 1630.0,1436.2 1630.5,1438.8 1631.0,1440.4 1631.5,1448.5 1632.0,1435.2 1632.5,1434.7 1633.0,1436.5 1633.5,1442.0 1634.0,1443.4 1634.5,1438.8 1635.0,1448.2 1635.5,1435.5 1636.0,1441.7 1636.5,1438.3 1637.0,1436.7 1637.5,1454.0 1638.0,1441.7 1638.5,1437.8 1639.0,1445.0 1639.5,1438.7 1640.0,1450.6 1640.5,1453.2 1641.0,1455.1 1641.5,1439.9 1642.0,1445.9 1642.5,1463.3 1643.0,1446.3 1643.5,1459.0 1644.0,1461.6 1644.5,1440.1 1645.0,1459.5 1645.5,1455.9 1646.0,1457.3 1646.5,1464.5 1647.0,1454.2 1647.5,1451.2 1648.0,1456.1 1648.5,1448.8 1649.0,1455.6 1649.5,1438.9 1650.0,1466.6 1650.5,1448.5 1651.0,1456.9 1651.5,1455.1 1652.0,1453.5 1652.5,1453.8 1653.0,1453.6 1653.5,1443.0 1654.0,1449.7 1654.5,1463.4 1655.0,1446.6 1655.5,1446.3 1656.0,1471.0 1656.5,1463.1 1657.0,1466.1 1657.5,1452.5 1658.0,1454.8 1658.5,1459.0 1659.0,1457.2 1659.5,1451.6 1660.0,1443.1 1660.5,1447.5 1661.0,1442.7 1661.5,1465.6 1662.0,1449.4 1662.5,1450.8 1663.0,1454.4 1663.5,1452.1 1664.0,1456.4 1664.5,1447.9 1665.0,1442.3 1665.5,1466.8 1666.0,1447.2 1666.5,1448.6 1667.0,1446.6 1667.5,1448.1 1668.0,1451.7 1668.5,1457.8 1669.0,1444.8 1669.5,1453.8 1670.0,1447.0 1670.5,1461.4 1671.0,1443.4 1671.5,1451.8 1672.0,1457.0 1672.5,1442.4 1673.0,1451.7 1673.5,1451.9 1674.0,1445.6 1674.5,1449.1 1675.0,1458.9 1675.5,1452.6 1676.0,1447.9 1676.5,1449.2 1677.0,1454.4 1677.5,1461.4 1678.0,1457.5 1678.5,1457.0 1679.0,1464.2 1679.5,1441.6 1680.0,1442.3 1680.5,1437.2 1681.0,1458.3 1681.5,1437.3 1682.0,1451.0 1682.5,1457.7 1683.0,1442.8 1683.5,1447.3 1684.0,1449.8 1684.5,1457.5 1685.0,1442.1 1685.5,1454.0 1686.0,1457.1 1686.5,1452.3 1687.0,1452.3 1687.5,1461.3 1688.0,1452.5 1688.5,1450.3 1689.0,1448.2 1689.5,1455.6 1690.0,1448.1 1690.5,1455.2 1691.0,1450.3 1691.5,1458.7 1692.0,1444.2 1692.5,1449.4 1693.0,1451.5 1693.5,1451.9 1694.0,1457.7 1694.5,1451.3 1695.0,1455.4 1695.5,1464.1 1696.0,1454.6 1696.5,1440.9 1697.0,1438.5 1697.5,1452.6 1698.0,1444.5 1698.5,1449.0 1699.0,1445.3 1699.5,1457.0 1700.0,1455.8 1700.5,1438.6 1701.0,1447.2 1701.5,1442.5 1702.0,1435.8 1702.5,1448.1 1703.0,1440.8 1703.5,1443.8 1704.0,1455.6 1704.5,1445.0 1705.0,1440.2 1705.5,1432.1 1706.0,1429.8 1706.5,1430.3 1707.0,1429.2 1707.5,1430.1 1708.0,1431.3 1708.5,1434.2 1709.0,1447.3 1709.5,1437.0 1710.0,1438.9 1710.5,1443.7 1711.0,1446.0 1711.5,1437.9 1712.0,1435.6 1712.5,1443.7 1713.0,1446.8 1713.5,1444.1 1714.0,1443.5 1714.5,1444.5 1715.0,1448.4 1715.5,1450.6 1716.0,1442.0 1716.5,1449.1 1717.0,1455.8 1717.5,1452.7 1718.0,1445.8 1718.5,1452.4 1719.0,1454.9 1719.5,1462.0 1720.0,1446.4 1720.5,1462.4 1721.0,1454.5 1721.5,1459.5 1722.0,1464.0 1722.5,1453.8 1723.0,1454.7 1723.5,1459.4 1724.0,1466.6 1724.5,1457.5 1725.0,1452.4 1725.5,1456.8 1726.0,1464.1 1726.5,1470.6 1727.0,1458.1 1727.5,1459.2 1728.0,1460.1 1728.5,1460.3 1729.0,1455.5 1729.5,1458.5 1730.0,1462.8 1730.5,1461.9 1731.0,1461.2 1731.5,1455.1 1732.0,1457.8 1732.5,1456.9 1733.0,1469.8 1733.5,1473.1 1734.0,1464.0 1734.5,1474.4 1735.0,1459.7 1735.5,1459.8 1736.0,1453.9 1736.5,1463.5 1737.0,1459.1 1737.5,1462.6 1738.0,1466.0 1738.5,1460.7 1739.0,1455.6 1739.5,1462.2 1740.0,1462.1 1740.5,1462.8 1741.0,1468.3 1741.5,1461.6 1742.0,1461.4 1742.5,1477.3 1743.0,1472.0 1743.5,1462.8 1744.0,1457.9 1744.5,1460.8 1745.0,1466.6 1745.5,1470.5 1746.0,1483.4 1746.5,1462.3 1747.0,1465.0 1747.5,1461.7 1748.0,1464.4 1748.5,1461.6 1749.0,1457.5 1749.5,1472.2 1750.0,1464.8 1750.5,1474.3 1751.0,1460.8 1751.5,1465.9 1752.0,1469.0 1752.5,1452.5 1753.0,1455.7 1753.5,1469.6 1754.0,1464.2 1754.5,1452.3 1755.0,1458.6 1755.5,1456.5 1756.0,1459.7 1756.5,1475.0 1757.0,1458.8 1757.5,1478.6 1758.0,1460.3 1758.5,1457.3 1759.0,1474.4 1759.5,1469.2 1760.0,1472.6 1760.5,1477.2 1761.0,1469.9 1761.5,1471.2 1762.0,1451.0 1762.5,1456.2 1763.0,1464.8 1763.5,1462.8 1764.0,1467.1 1764.5,1458.3 1765.0,1470.3 1765.5,1477.8 1766.0,1466.1 1766.5,1468.1 1767.0,1465.5 1767.5,1468.9 1768.0,1463.1 1768.5,1458.3 1769.0,1462.9 1769.5,1462.2 1770.0,1452.2 1770.5,1463.2 1771.0,1461.4 1771.5,1462.9 1772.0,1457.8 1772.5,1465.0 1773.0,1466.1 1773.5,1456.6 1774.0,1463.5 1774.5,1467.1 1775.0,1466.8 1775.5,1455.1 1776.0,1454.4 1776.5,1460.6 1777.0,1454.0 1777.5,1479.7 1778.0,1455.2 1778.5,1455.2 1779.0,1465.1 1779.5,1456.9 1780.0,1445.8"/>
<polyline clip-path="url(#redclip)" stroke="#ff0000" stroke-width="13.5" points="198.0,1631.5 345.0,1631.5 346.0,1630.7 347.0,1623.2 348.0,1584.8 349.0,1492.8 350.0,1414.3 351.0,1452.3 352.0,1553.5 353.0,1613.6 354.0,1629.3 355.0,1631.4 356.0,1631.5 383.0,1631.5 384.0,1631.4 385.0,1630.2 386.0,1623.4 387.0,1606.0 388.0,1589.0 389.0,1594.1 390.0,1614.1 391.0,1627.3 392.0,1631.0 393.0,1631.5 478.0,1631.5 479.0,1631.4 480.0,1629.7 481.0,1614.8 482.0,1549.0 483.0,1416.0 484.0,1334.8 485.0,1416.0 486.0,1549.0 487.0,1614.8 488.0,1629.7 489.0,1631.4 490.0,1631.5 584.0,1631.5 585.0,1631.2 586.0,1628.9 587.0,1620.9 588.0,1608.6 589.0,1605.5 590.0,1615.9 591.0,1626.6 592.0,1630.7 593.0,1631.4 594.0,1631.5 606.0,1631.5 607.0,1631.3 608.0,1630.0 609.0,1626.6 610.0,1622.7 611.0,1623.3 612.0,1627.4 613.0,1630.4 614.0,1631.4 615.0,1631.5 671.0,1631.5 672.0,1631.3 673.0,1629.4 674.0,1619.0 675.0,1591.9 676.0,1565.5 677.0,1573.4 678.0,1604.6 679.0,1624.9 680.0,1630.6 681.0,1631.4 682.0,1631.5 693.0,1631.5 694.0,1631.4 695.0,1631.0 696.0,1630.1 697.0,1629.4 698.0,1629.7 699.0,1630.7 700.0,1631.3 701.0,1631.5 748.0,1631.5 749.0,1630.8 750.0,1624.5 751.0,1596.9 752.0,1541.2 753.0,1507.2 754.0,1541.2 755.0,1596.9 756.0,1624.5 757.0,1630.8 758.0,1631.5 835.0,1631.5 836.0,1631.3 837.0,1630.6 838.0,1629.7 839.0,1629.4 840.0,1630.2 841.0,1631.1 842.0,1631.4 843.0,1631.5 882.0,1631.5 883.0,1631.4 884.0,1630.7 885.0,1626.0 886.0,1611.7 887.0,1593.9 888.0,1593.9 889.0,1611.7 890.0,1626.0 891.0,1630.7 892.0,1631.4 893.0,1631.5 900.0,1631.5 901.0,1631.4 902.0,1630.6 903.0,1628.4 904.0,1625.5 905.0,1625.5 906.0,1628.4 907.0,1630.6 908.0,1631.4 909.0,1631.5 944.0,1631.5 945.0,1631.4 946.0,1630.4 947.0,1625.8 948.0,1616.7 949.0,1611.2 950.0,1616.7 951.0,1625.8 952.0,1630.4 953.0,1631.4 954.0,1631.5 1003.0,1631.5 1004.0,1631.1 1005.0,1629.7 1006.0,1626.8 1007.0,1625.0 1008.0,1626.8 1009.0,1629.7 1010.0,1631.1 1011.0,1631.5 1056.0,1631.5 1057.0,1631.3 1058.0,1629.8 1059.0,1621.9 1060.0,1603.1 1061.0,1587.0 1062.0,1594.8 1063.0,1615.5 1064.0,1627.8 1065.0,1631.1 1066.0,1631.5 1107.0,1631.5 1108.0,1631.2 1109.0,1628.8 1110.0,1619.7 1111.0,1604.4 1112.0,1598.7 1113.0,1610.5 1114.0,1624.4 1115.0,1630.2 1116.0,1631.4 1117.0,1631.5 1122.0,1631.5 1123.0,1631.2 1124.0,1630.5 1125.0,1629.5 1126.0,1629.5 1127.0,1630.5 1128.0,1631.2 1129.0,1631.5 1155.0,1631.5 1156.0,1631.1 1157.0,1629.1 1158.0,1624.0 1159.0,1619.0 1160.0,1620.5 1161.0,1626.4 1162.0,1630.3 1163.0,1631.3 1164.0,1631.5 1203.0,1631.5 1204.0,1631.2 1205.0,1629.5 1206.0,1623.9 1207.0,1616.2 1208.0,1615.2 1209.0,1622.3 1210.0,1628.8 1211.0,1631.1 1212.0,1631.5 1252.0,1631.5 1253.0,1631.2 1254.0,1629.4 1255.0,1623.8 1256.0,1617.0 1257.0,1617.0 1258.0,1623.8 1259.0,1629.4 1260.0,1631.2 1261.0,1631.5 1338.0,1631.5 1339.0,1631.4 1340.0,1630.4 1341.0,1627.4 1342.0,1623.3 1343.0,1622.7 1344.0,1626.6 1345.0,1630.0 1346.0,1631.3 1347.0,1631.5 1378.0,1631.5 1379.0,1631.4 1380.0,1630.9 1381.0,1629.9 1382.0,1629.3 1383.0,1629.9 1384.0,1630.9 1385.0,1631.4 1386.0,1631.5 1420.0,1631.5 1421.0,1631.4 1422.0,1631.0 1423.0,1630.1 1424.0,1629.1 1425.0,1629.4 1426.0,1630.5 1427.0,1631.3 1428.0,1631.5 1457.0,1631.5 1458.0,1631.2 1459.0,1630.2 1460.0,1628.7 1461.0,1628.3 1462.0,1629.6 1463.0,1630.9 1464.0,1631.4 1465.0,1631.5 1472.0,1631.5 1473.0,1631.2 1474.0,1630.2 1475.0,1628.7 1476.0,1628.3 1477.0,1629.6 1478.0,1630.9 1479.0,1631.4 1480.0,1631.5 1502.0,1631.5 1503.0,1631.3 1504.0,1630.6 1505.0,1629.5 1506.0,1629.1 1507.0,1630.0 1508.0,1631.0 1509.0,1631.4 1510.0,1631.5 1577.0,1631.5 1578.0,1631.3 1579.0,1630.6 1580.0,1629.5 1581.0,1629.1 1582.0,1630.0 1583.0,1631.0 1584.0,1631.4 1585.0,1631.5 1611.0,1631.5 1612.0,1631.2 1613.0,1630.2 1614.0,1628.1 1615.0,1626.8 1616.0,1628.1 1617.0,1630.2 1618.0,1631.2 1619.0,1631.5 1716.0,1631.5 1717.0,1631.4 1718.0,1630.8 1719.0,1629.7 1720.0,1629.0 1721.0,1629.7 1722.0,1630.8 1723.0,1631.4 1724.0,1631.5 1788.0,1631.5"/>
</g>

<!-- curve labels -->
<text x="1146" y="999" font-size="104" fill="#990099" textLength="560" lengthAdjust="spacingAndGlyphs">Cu/Fe-MOF</text>
<text x="1378.5" y="1359" font-size="104" fill="#339966" textLength="387" lengthAdjust="spacingAndGlyphs">Fe-MOF</text>
<text x="1288.5" y="1587" font-size="111" fill="#ff0000" textLength="479" lengthAdjust="spacingAndGlyphs">simulated</text>

<!-- axis tick labels -->
<g font-size="112" fill="#000000">
<text x="374.6" y="1827.6" text-anchor="middle">10</text>
<text x="724.5" y="1827.6" text-anchor="middle">20</text>
<text x="1077.0" y="1827.6" text-anchor="middle">30</text>
<text x="1428.5" y="1827.6" text-anchor="middle">40</text>
<text x="1781.0" y="1827.6" text-anchor="middle">50</text>
</g>

<!-- x axis title -->
<text x="713.5" y="1976" font-size="111" font-style="italic" fill="#000000">2</text>
<text transform="translate(779.5 1974.5) scale(1.22 1)" style="font-family:'Liberation Serif', serif" font-style="italic" font-size="103" fill="#000000">θ</text>
<text x="855" y="1976" font-size="109.4" fill="#000000">(degree)</text>

<!-- y axis title -->
<text transform="translate(125.6 1188) rotate(-90)" font-size="109.5" fill="#000000" textLength="685.5" lengthAdjust="spacingAndGlyphs">Intensity (a.u.)</text>
</svg>
</body>
</html>
